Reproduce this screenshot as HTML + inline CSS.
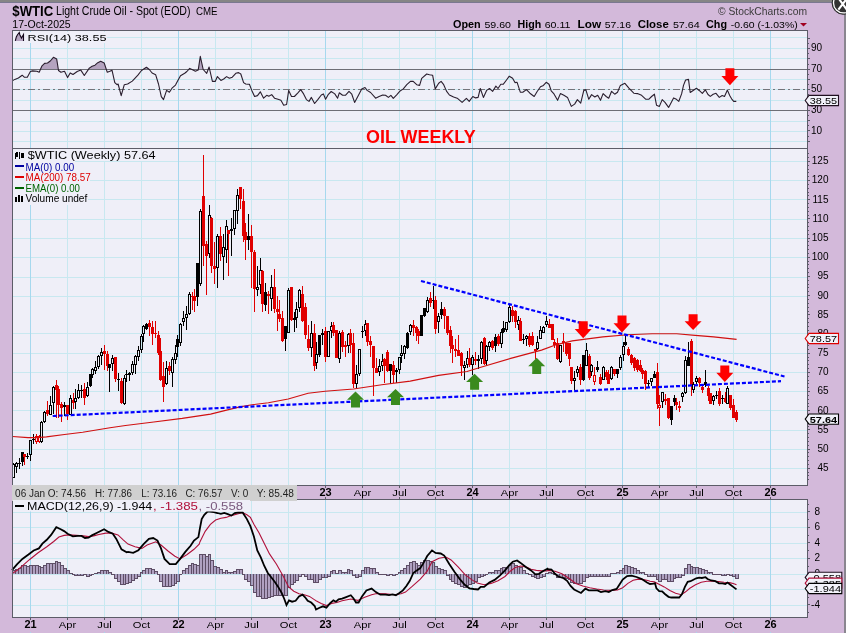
<!DOCTYPE html>
<html><head><meta charset="utf-8"><style>html,body{margin:0;padding:0;background:#d3b9da;overflow:hidden;}svg{display:block;will-change:transform;}</style></head>
<body><svg width="846" height="633" viewBox="0 0 846 633" font-family='"Liberation Sans", sans-serif'>
<rect x="0" y="0" width="846" height="633" fill="#d3b9da"/>
<rect x="12" y="30" width="795" height="118" fill="#efeff8"/>
<rect x="12" y="148" width="795" height="337" fill="#efeff8"/>
<rect x="12" y="499" width="795" height="118" fill="#efeff8"/>
<g shape-rendering="crispEdges">
<rect x="13" y="37" width="794" height="1" fill="#c8e8f0"/>
<rect x="13" y="48" width="794" height="1" fill="#c8e8f0"/>
<rect x="13" y="58" width="794" height="1" fill="#c8e8f0"/>
<rect x="13" y="79" width="794" height="1" fill="#c8e8f0"/>
<rect x="13" y="100" width="794" height="1" fill="#c8e8f0"/>
<rect x="13" y="121" width="794" height="1" fill="#c8e8f0"/>
<rect x="13" y="131" width="794" height="1" fill="#c8e8f0"/>
<rect x="13" y="141" width="794" height="1" fill="#c8e8f0"/>
<rect x="13" y="161" width="794" height="1" fill="#c8e8f0"/>
<rect x="13" y="180" width="794" height="1" fill="#c8e8f0"/>
<rect x="13" y="199" width="794" height="1" fill="#c8e8f0"/>
<rect x="13" y="219" width="794" height="1" fill="#c8e8f0"/>
<rect x="13" y="238" width="794" height="1" fill="#c8e8f0"/>
<rect x="13" y="257" width="794" height="1" fill="#c8e8f0"/>
<rect x="13" y="277" width="794" height="1" fill="#c8e8f0"/>
<rect x="13" y="296" width="794" height="1" fill="#c8e8f0"/>
<rect x="13" y="333" width="794" height="1" fill="#c8e8f0"/>
<rect x="13" y="353" width="794" height="1" fill="#c8e8f0"/>
<rect x="13" y="372" width="794" height="1" fill="#c8e8f0"/>
<rect x="13" y="391" width="794" height="1" fill="#c8e8f0"/>
<rect x="13" y="410" width="794" height="1" fill="#c8e8f0"/>
<rect x="13" y="430" width="794" height="1" fill="#c8e8f0"/>
<rect x="13" y="449" width="794" height="1" fill="#c8e8f0"/>
<rect x="13" y="468" width="794" height="1" fill="#c8e8f0"/>
<rect x="13" y="605" width="794" height="1" fill="#c8e8f0"/>
<rect x="13" y="589" width="794" height="1" fill="#c8e8f0"/>
<rect x="13" y="574" width="794" height="1" fill="#c8e8f0"/>
<rect x="13" y="558" width="794" height="1" fill="#c8e8f0"/>
<rect x="13" y="543" width="794" height="1" fill="#c8e8f0"/>
<rect x="13" y="527" width="794" height="1" fill="#c8e8f0"/>
<rect x="13" y="512" width="794" height="1" fill="#c8e8f0"/>
<rect x="30" y="31" width="1" height="117" fill="#a6d8ee"/>
<rect x="67" y="31" width="1" height="117" fill="#c8e8f0"/>
<rect x="104" y="31" width="1" height="117" fill="#c8e8f0"/>
<rect x="141" y="31" width="1" height="117" fill="#c8e8f0"/>
<rect x="178" y="31" width="1" height="117" fill="#a6d8ee"/>
<rect x="215" y="31" width="1" height="117" fill="#c8e8f0"/>
<rect x="251" y="31" width="1" height="117" fill="#c8e8f0"/>
<rect x="288" y="31" width="1" height="117" fill="#c8e8f0"/>
<rect x="325" y="31" width="1" height="117" fill="#a6d8ee"/>
<rect x="362" y="31" width="1" height="117" fill="#c8e8f0"/>
<rect x="399" y="31" width="1" height="117" fill="#c8e8f0"/>
<rect x="435" y="31" width="1" height="117" fill="#c8e8f0"/>
<rect x="472" y="31" width="1" height="117" fill="#a6d8ee"/>
<rect x="509" y="31" width="1" height="117" fill="#c8e8f0"/>
<rect x="546" y="31" width="1" height="117" fill="#c8e8f0"/>
<rect x="585" y="31" width="1" height="117" fill="#c8e8f0"/>
<rect x="622" y="31" width="1" height="117" fill="#a6d8ee"/>
<rect x="659" y="31" width="1" height="117" fill="#c8e8f0"/>
<rect x="696" y="31" width="1" height="117" fill="#c8e8f0"/>
<rect x="733" y="31" width="1" height="117" fill="#c8e8f0"/>
<rect x="770" y="31" width="1" height="117" fill="#a6d8ee"/>
<rect x="30" y="149" width="1" height="336" fill="#a6d8ee"/>
<rect x="67" y="149" width="1" height="336" fill="#c8e8f0"/>
<rect x="104" y="149" width="1" height="336" fill="#c8e8f0"/>
<rect x="141" y="149" width="1" height="336" fill="#c8e8f0"/>
<rect x="178" y="149" width="1" height="336" fill="#a6d8ee"/>
<rect x="215" y="149" width="1" height="336" fill="#c8e8f0"/>
<rect x="251" y="149" width="1" height="336" fill="#c8e8f0"/>
<rect x="288" y="149" width="1" height="336" fill="#c8e8f0"/>
<rect x="325" y="149" width="1" height="336" fill="#a6d8ee"/>
<rect x="362" y="149" width="1" height="336" fill="#c8e8f0"/>
<rect x="399" y="149" width="1" height="336" fill="#c8e8f0"/>
<rect x="435" y="149" width="1" height="336" fill="#c8e8f0"/>
<rect x="472" y="149" width="1" height="336" fill="#a6d8ee"/>
<rect x="509" y="149" width="1" height="336" fill="#c8e8f0"/>
<rect x="546" y="149" width="1" height="336" fill="#c8e8f0"/>
<rect x="585" y="149" width="1" height="336" fill="#c8e8f0"/>
<rect x="622" y="149" width="1" height="336" fill="#a6d8ee"/>
<rect x="659" y="149" width="1" height="336" fill="#c8e8f0"/>
<rect x="696" y="149" width="1" height="336" fill="#c8e8f0"/>
<rect x="733" y="149" width="1" height="336" fill="#c8e8f0"/>
<rect x="770" y="149" width="1" height="336" fill="#a6d8ee"/>
<rect x="30" y="500" width="1" height="117" fill="#a6d8ee"/>
<rect x="67" y="500" width="1" height="117" fill="#c8e8f0"/>
<rect x="104" y="500" width="1" height="117" fill="#c8e8f0"/>
<rect x="141" y="500" width="1" height="117" fill="#c8e8f0"/>
<rect x="178" y="500" width="1" height="117" fill="#a6d8ee"/>
<rect x="215" y="500" width="1" height="117" fill="#c8e8f0"/>
<rect x="251" y="500" width="1" height="117" fill="#c8e8f0"/>
<rect x="288" y="500" width="1" height="117" fill="#c8e8f0"/>
<rect x="325" y="500" width="1" height="117" fill="#a6d8ee"/>
<rect x="362" y="500" width="1" height="117" fill="#c8e8f0"/>
<rect x="399" y="500" width="1" height="117" fill="#c8e8f0"/>
<rect x="435" y="500" width="1" height="117" fill="#c8e8f0"/>
<rect x="472" y="500" width="1" height="117" fill="#a6d8ee"/>
<rect x="509" y="500" width="1" height="117" fill="#c8e8f0"/>
<rect x="546" y="500" width="1" height="117" fill="#c8e8f0"/>
<rect x="585" y="500" width="1" height="117" fill="#c8e8f0"/>
<rect x="622" y="500" width="1" height="117" fill="#a6d8ee"/>
<rect x="659" y="500" width="1" height="117" fill="#c8e8f0"/>
<rect x="696" y="500" width="1" height="117" fill="#c8e8f0"/>
<rect x="733" y="500" width="1" height="117" fill="#c8e8f0"/>
<rect x="770" y="500" width="1" height="117" fill="#a6d8ee"/>
<rect x="13" y="69" width="794" height="1" fill="#6e6e76"/>
<rect x="13" y="110" width="794" height="1" fill="#6e6e76"/>
</g>
<rect x="13" y="89" width="794" height="1" fill="#c8e8f0"/>
<line x1="13" y1="89.5" x2="807" y2="89.5" stroke="#74747a" stroke-width="1" stroke-dasharray="7,3,2,3" shape-rendering="crispEdges"/>
<clipPath id="c70"><rect x="12" y="30" width="795" height="39"/></clipPath>
<path d="M12.5,80.6 L13.1,80.4 L14.8,79.4 L18.4,78.0 L22.2,75.2 L24.5,77.3 L27.3,77.2 L30.4,71.5 L32.6,70.9 L36.8,71.2 L39.2,72.3 L41.8,66.2 L44.6,63.4 L47.5,63.0 L50.3,61.0 L53.4,57.3 L56.7,59.1 L58.5,70.5 L60.9,72.3 L64.5,71.2 L67.6,77.6 L70.2,72.9 L73.0,74.5 L77.2,71.5 L80.8,70.1 L84.3,75.5 L89.3,68.1 L92.1,66.2 L95.0,65.2 L97.8,62.7 L100.7,61.3 L104.2,63.0 L107.3,72.3 L109.9,71.2 L112.0,70.2 L114.8,82.6 L117.0,84.7 L118.1,84.0 L121.2,95.6 L124.3,84.7 L127.6,84.0 L132.3,81.1 L137.9,75.2 L141.5,70.5 L146.4,67.2 L149.3,69.5 L152.1,73.0 L155.7,74.8 L158.5,84.0 L161.3,96.7 L163.5,99.6 L166.6,90.4 L169.4,92.2 L172.0,88.2 L175.5,85.1 L177.6,81.1 L180.5,75.7 L184.7,73.3 L186.9,71.5 L189.7,68.4 L192.5,69.8 L195.4,71.2 L198.2,70.1 L200.3,56.3 L203.2,69.5 L206.7,73.3 L209.1,67.0 L212.4,81.4 L215.2,81.4 L217.4,76.6 L220.9,80.4 L223.7,79.0 L226.6,76.6 L229.4,78.3 L232.3,77.2 L235.8,73.3 L238.6,72.6 L240.8,74.0 L243.6,82.6 L245.7,84.0 L248.0,84.3 L249.4,84.3 L251.8,90.4 L254.6,96.5 L257.5,95.6 L260.3,91.8 L263.6,98.2 L266.7,95.3 L268.8,96.3 L271.7,94.6 L274.5,98.2 L278.0,99.3 L280.9,100.3 L283.7,105.2 L286.6,104.5 L288.7,90.4 L291.5,96.5 L294.4,96.5 L297.9,92.8 L300.7,89.6 L303.6,93.9 L306.4,99.6 L309.0,101.4 L311.4,97.4 L314.6,103.5 L317.8,99.6 L321.3,95.0 L323.4,93.9 L325.6,99.3 L328.4,94.3 L331.2,91.5 L334.8,93.9 L337.6,98.2 L339.3,92.8 L342.6,95.3 L345.4,95.3 L349.0,91.3 L351.8,94.2 L354.6,102.4 L358.2,95.7 L361.7,88.9 L365.0,87.5 L367.1,90.4 L370.6,92.5 L375.6,98.2 L379.1,96.5 L382.7,95.0 L385.5,95.3 L388.4,97.4 L390.9,95.3 L393.3,98.4 L396.9,94.6 L399.7,91.3 L403.3,88.9 L406.8,84.7 L410.4,81.4 L413.2,81.4 L416.7,84.7 L419.6,85.4 L421.7,78.3 L426.7,74.0 L429.5,74.8 L432.6,75.2 L435.2,88.9 L438.7,83.3 L441.1,81.4 L443.7,84.7 L446.5,91.1 L449.4,95.0 L453.6,97.0 L457.2,98.2 L462.1,102.4 L466.4,98.4 L469.2,101.3 L472.8,96.5 L475.6,97.9 L478.1,97.4 L480.3,88.5 L483.4,97.4 L486.6,90.4 L489.5,88.5 L492.7,91.3 L495.9,86.1 L498.0,88.5 L500.8,84.3 L503.2,84.3 L506.5,80.0 L509.3,76.2 L512.6,78.3 L515.0,82.6 L517.1,82.3 L520.3,92.2 L522.8,92.2 L526.4,89.6 L529.9,93.2 L534.2,96.5 L537.0,91.8 L540.5,86.8 L543.4,85.4 L546.2,82.3 L549.0,84.3 L551.2,90.8 L554.0,93.9 L557.6,100.3 L560.4,93.6 L563.9,95.3 L567.5,97.4 L571.3,106.4 L574.6,104.1 L577.4,99.6 L580.7,103.1 L583.8,90.4 L585.9,89.9 L588.8,99.3 L591.6,94.6 L594.8,97.0 L597.7,95.3 L600.5,100.3 L603.1,93.6 L606.2,96.5 L608.7,98.2 L611.6,91.3 L614.7,94.2 L617.5,92.2 L620.4,85.4 L624.9,83.3 L628.9,88.2 L633.8,93.2 L637.4,93.6 L641.6,95.3 L645.9,99.3 L648.7,99.3 L651.6,96.5 L654.4,94.2 L656.5,105.2 L659.4,106.4 L662.2,99.6 L665.0,102.4 L668.6,107.4 L673.6,97.9 L676.4,99.3 L678.8,101.3 L681.6,93.9 L683.5,85.4 L685.6,80.0 L688.5,79.4 L690.2,92.5 L692.8,90.7 L696.4,88.2 L699.5,90.7 L702.3,93.3 L705.3,89.8 L708.0,94.5 L710.3,96.4 L713.2,94.2 L716.0,93.3 L719.3,97.4 L722.2,95.5 L724.5,96.4 L727.4,90.1 L729.7,95.5 L731.6,98.8 L733.7,101.4 L736.3,101.4 L736.3,69.2 L12.5,69.2 Z" fill="#b4a3bf" clip-path="url(#c70)"/>
<rect x="13" y="69" width="794" height="1" fill="#6e6e76"/>
<path d="M12.5,80.6 L13.1,80.4 L14.8,79.4 L18.4,78.0 L22.2,75.2 L24.5,77.3 L27.3,77.2 L30.4,71.5 L32.6,70.9 L36.8,71.2 L39.2,72.3 L41.8,66.2 L44.6,63.4 L47.5,63.0 L50.3,61.0 L53.4,57.3 L56.7,59.1 L58.5,70.5 L60.9,72.3 L64.5,71.2 L67.6,77.6 L70.2,72.9 L73.0,74.5 L77.2,71.5 L80.8,70.1 L84.3,75.5 L89.3,68.1 L92.1,66.2 L95.0,65.2 L97.8,62.7 L100.7,61.3 L104.2,63.0 L107.3,72.3 L109.9,71.2 L112.0,70.2 L114.8,82.6 L117.0,84.7 L118.1,84.0 L121.2,95.6 L124.3,84.7 L127.6,84.0 L132.3,81.1 L137.9,75.2 L141.5,70.5 L146.4,67.2 L149.3,69.5 L152.1,73.0 L155.7,74.8 L158.5,84.0 L161.3,96.7 L163.5,99.6 L166.6,90.4 L169.4,92.2 L172.0,88.2 L175.5,85.1 L177.6,81.1 L180.5,75.7 L184.7,73.3 L186.9,71.5 L189.7,68.4 L192.5,69.8 L195.4,71.2 L198.2,70.1 L200.3,56.3 L203.2,69.5 L206.7,73.3 L209.1,67.0 L212.4,81.4 L215.2,81.4 L217.4,76.6 L220.9,80.4 L223.7,79.0 L226.6,76.6 L229.4,78.3 L232.3,77.2 L235.8,73.3 L238.6,72.6 L240.8,74.0 L243.6,82.6 L245.7,84.0 L248.0,84.3 L249.4,84.3 L251.8,90.4 L254.6,96.5 L257.5,95.6 L260.3,91.8 L263.6,98.2 L266.7,95.3 L268.8,96.3 L271.7,94.6 L274.5,98.2 L278.0,99.3 L280.9,100.3 L283.7,105.2 L286.6,104.5 L288.7,90.4 L291.5,96.5 L294.4,96.5 L297.9,92.8 L300.7,89.6 L303.6,93.9 L306.4,99.6 L309.0,101.4 L311.4,97.4 L314.6,103.5 L317.8,99.6 L321.3,95.0 L323.4,93.9 L325.6,99.3 L328.4,94.3 L331.2,91.5 L334.8,93.9 L337.6,98.2 L339.3,92.8 L342.6,95.3 L345.4,95.3 L349.0,91.3 L351.8,94.2 L354.6,102.4 L358.2,95.7 L361.7,88.9 L365.0,87.5 L367.1,90.4 L370.6,92.5 L375.6,98.2 L379.1,96.5 L382.7,95.0 L385.5,95.3 L388.4,97.4 L390.9,95.3 L393.3,98.4 L396.9,94.6 L399.7,91.3 L403.3,88.9 L406.8,84.7 L410.4,81.4 L413.2,81.4 L416.7,84.7 L419.6,85.4 L421.7,78.3 L426.7,74.0 L429.5,74.8 L432.6,75.2 L435.2,88.9 L438.7,83.3 L441.1,81.4 L443.7,84.7 L446.5,91.1 L449.4,95.0 L453.6,97.0 L457.2,98.2 L462.1,102.4 L466.4,98.4 L469.2,101.3 L472.8,96.5 L475.6,97.9 L478.1,97.4 L480.3,88.5 L483.4,97.4 L486.6,90.4 L489.5,88.5 L492.7,91.3 L495.9,86.1 L498.0,88.5 L500.8,84.3 L503.2,84.3 L506.5,80.0 L509.3,76.2 L512.6,78.3 L515.0,82.6 L517.1,82.3 L520.3,92.2 L522.8,92.2 L526.4,89.6 L529.9,93.2 L534.2,96.5 L537.0,91.8 L540.5,86.8 L543.4,85.4 L546.2,82.3 L549.0,84.3 L551.2,90.8 L554.0,93.9 L557.6,100.3 L560.4,93.6 L563.9,95.3 L567.5,97.4 L571.3,106.4 L574.6,104.1 L577.4,99.6 L580.7,103.1 L583.8,90.4 L585.9,89.9 L588.8,99.3 L591.6,94.6 L594.8,97.0 L597.7,95.3 L600.5,100.3 L603.1,93.6 L606.2,96.5 L608.7,98.2 L611.6,91.3 L614.7,94.2 L617.5,92.2 L620.4,85.4 L624.9,83.3 L628.9,88.2 L633.8,93.2 L637.4,93.6 L641.6,95.3 L645.9,99.3 L648.7,99.3 L651.6,96.5 L654.4,94.2 L656.5,105.2 L659.4,106.4 L662.2,99.6 L665.0,102.4 L668.6,107.4 L673.6,97.9 L676.4,99.3 L678.8,101.3 L681.6,93.9 L683.5,85.4 L685.6,80.0 L688.5,79.4 L690.2,92.5 L692.8,90.7 L696.4,88.2 L699.5,90.7 L702.3,93.3 L705.3,89.8 L708.0,94.5 L710.3,96.4 L713.2,94.2 L716.0,93.3 L719.3,97.4 L722.2,95.5 L724.5,96.4 L727.4,90.1 L729.7,95.5 L731.6,98.8 L733.7,101.4 L736.3,101.4" fill="none" stroke="#2a1e2e" stroke-width="1.1" stroke-linejoin="round"/>
<g shape-rendering="crispEdges">
<rect x="13" y="463" width="1" height="1" fill="#000000"/>
<path d="M12,464h3v14h-3z M13,465v12h1v-12z" fill="#000000" fill-rule="evenodd"/>
<rect x="16" y="462" width="1" height="1" fill="#000000"/>
<rect x="16" y="467" width="1" height="6" fill="#000000"/>
<path d="M15,463h3v4h-3z M16,464v2h1v-2z" fill="#000000" fill-rule="evenodd"/>
<rect x="19" y="458" width="1" height="11" fill="#000000"/>
<rect x="18" y="463" width="3" height="1" fill="#000000"/>
<rect x="22" y="452" width="1" height="14" fill="#000000"/>
<rect x="21" y="452" width="3" height="10" fill="#000000"/>
<rect x="24" y="454" width="1" height="11" fill="#e00000"/>
<rect x="23" y="454" width="3" height="3" fill="#e00000"/>
<rect x="27" y="453" width="1" height="6" fill="#000000"/>
<rect x="26" y="456" width="3" height="1" fill="#000000"/>
<rect x="30" y="455" width="1" height="6" fill="#000000"/>
<path d="M29,440h3v15h-3z M30,441v13h1v-13z" fill="#000000" fill-rule="evenodd"/>
<rect x="33" y="434" width="1" height="10" fill="#000000"/>
<rect x="32" y="439" width="3" height="1" fill="#000000"/>
<rect x="36" y="434" width="1" height="2" fill="#e00000"/>
<rect x="36" y="442" width="1" height="2" fill="#e00000"/>
<path d="M35,436h3v6h-3z M36,437v4h1v-4z" fill="#e00000" fill-rule="evenodd"/>
<rect x="39" y="435" width="1" height="1" fill="#e00000"/>
<rect x="39" y="442" width="1" height="1" fill="#e00000"/>
<path d="M38,436h3v6h-3z M39,437v4h1v-4z" fill="#e00000" fill-rule="evenodd"/>
<rect x="41" y="421" width="1" height="1" fill="#000000"/>
<rect x="41" y="442" width="1" height="1" fill="#000000"/>
<path d="M40,422h3v20h-3z M41,423v18h1v-18z" fill="#000000" fill-rule="evenodd"/>
<rect x="44" y="411" width="1" height="1" fill="#000000"/>
<rect x="44" y="422" width="1" height="1" fill="#000000"/>
<path d="M43,412h3v10h-3z M44,413v8h1v-8z" fill="#000000" fill-rule="evenodd"/>
<rect x="47" y="401" width="1" height="15" fill="#e00000"/>
<rect x="46" y="410" width="3" height="4" fill="#e00000"/>
<rect x="50" y="396" width="1" height="9" fill="#000000"/>
<path d="M49,405h3v10h-3z M50,406v8h1v-8z" fill="#000000" fill-rule="evenodd"/>
<rect x="53" y="386" width="1" height="1" fill="#000000"/>
<rect x="53" y="403" width="1" height="11" fill="#000000"/>
<path d="M52,387h3v16h-3z M53,388v14h1v-14z" fill="#000000" fill-rule="evenodd"/>
<rect x="56" y="380" width="1" height="38" fill="#e00000"/>
<rect x="55" y="385" width="3" height="5" fill="#e00000"/>
<rect x="58" y="386" width="1" height="32" fill="#e00000"/>
<rect x="57" y="389" width="3" height="16" fill="#e00000"/>
<rect x="61" y="402" width="1" height="20" fill="#e00000"/>
<rect x="60" y="404" width="3" height="4" fill="#e00000"/>
<rect x="64" y="402" width="1" height="14" fill="#000000"/>
<rect x="63" y="405" width="3" height="2" fill="#000000"/>
<rect x="67" y="405" width="1" height="15" fill="#e00000"/>
<rect x="66" y="405" width="3" height="9" fill="#e00000"/>
<rect x="70" y="395" width="1" height="3" fill="#000000"/>
<path d="M69,398h3v17h-3z M70,399v15h1v-15z" fill="#000000" fill-rule="evenodd"/>
<rect x="73" y="393" width="1" height="16" fill="#e00000"/>
<rect x="72" y="400" width="3" height="3" fill="#e00000"/>
<rect x="75" y="389" width="1" height="9" fill="#000000"/>
<rect x="75" y="402" width="1" height="7" fill="#000000"/>
<path d="M74,398h3v4h-3z M75,399v2h1v-2z" fill="#000000" fill-rule="evenodd"/>
<rect x="78" y="384" width="1" height="6" fill="#000000"/>
<rect x="78" y="398" width="1" height="1" fill="#000000"/>
<path d="M77,390h3v8h-3z M78,391v6h1v-6z" fill="#000000" fill-rule="evenodd"/>
<rect x="81" y="385" width="1" height="13" fill="#000000"/>
<rect x="80" y="390" width="3" height="1" fill="#000000"/>
<rect x="84" y="383" width="1" height="22" fill="#e00000"/>
<rect x="83" y="389" width="3" height="9" fill="#e00000"/>
<rect x="87" y="382" width="1" height="5" fill="#000000"/>
<rect x="87" y="396" width="1" height="1" fill="#000000"/>
<path d="M86,387h3v9h-3z M87,388v7h1v-7z" fill="#000000" fill-rule="evenodd"/>
<rect x="90" y="374" width="1" height="13" fill="#000000"/>
<rect x="89" y="374" width="3" height="12" fill="#000000"/>
<rect x="92" y="368" width="1" height="1" fill="#000000"/>
<rect x="92" y="375" width="1" height="3" fill="#000000"/>
<path d="M91,369h3v6h-3z M92,370v4h1v-4z" fill="#000000" fill-rule="evenodd"/>
<rect x="95" y="361" width="1" height="6" fill="#000000"/>
<rect x="95" y="371" width="1" height="3" fill="#000000"/>
<path d="M94,367h3v4h-3z M95,368v2h1v-2z" fill="#000000" fill-rule="evenodd"/>
<rect x="98" y="355" width="1" height="1" fill="#000000"/>
<rect x="98" y="367" width="1" height="2" fill="#000000"/>
<path d="M97,356h3v11h-3z M98,357v9h1v-9z" fill="#000000" fill-rule="evenodd"/>
<rect x="101" y="348" width="1" height="4" fill="#000000"/>
<rect x="101" y="356" width="1" height="9" fill="#000000"/>
<path d="M100,352h3v4h-3z M101,353v2h1v-2z" fill="#000000" fill-rule="evenodd"/>
<rect x="104" y="345" width="1" height="25" fill="#e00000"/>
<rect x="103" y="351" width="3" height="3" fill="#e00000"/>
<rect x="107" y="351" width="1" height="20" fill="#e00000"/>
<rect x="106" y="354" width="3" height="12" fill="#e00000"/>
<rect x="109" y="364" width="1" height="28" fill="#000000"/>
<rect x="108" y="364" width="3" height="4" fill="#000000"/>
<rect x="112" y="355" width="1" height="3" fill="#000000"/>
<rect x="112" y="364" width="1" height="7" fill="#000000"/>
<path d="M111,358h3v6h-3z M112,359v4h1v-4z" fill="#000000" fill-rule="evenodd"/>
<rect x="115" y="357" width="1" height="25" fill="#e00000"/>
<rect x="114" y="357" width="3" height="22" fill="#e00000"/>
<rect x="118" y="373" width="1" height="18" fill="#000000"/>
<rect x="117" y="379" width="3" height="1" fill="#000000"/>
<rect x="121" y="378" width="1" height="26" fill="#e00000"/>
<rect x="120" y="381" width="3" height="22" fill="#e00000"/>
<rect x="124" y="375" width="1" height="3" fill="#000000"/>
<rect x="124" y="404" width="1" height="1" fill="#000000"/>
<path d="M123,378h3v26h-3z M124,379v24h1v-24z" fill="#000000" fill-rule="evenodd"/>
<rect x="126" y="370" width="1" height="12" fill="#000000"/>
<rect x="125" y="374" width="3" height="1" fill="#000000"/>
<rect x="129" y="372" width="1" height="9" fill="#000000"/>
<rect x="128" y="373" width="3" height="2" fill="#000000"/>
<rect x="132" y="361" width="1" height="3" fill="#000000"/>
<rect x="132" y="373" width="1" height="2" fill="#000000"/>
<path d="M131,364h3v9h-3z M132,365v7h1v-7z" fill="#000000" fill-rule="evenodd"/>
<rect x="135" y="355" width="1" height="1" fill="#000000"/>
<rect x="135" y="365" width="1" height="9" fill="#000000"/>
<path d="M134,356h3v9h-3z M135,357v7h1v-7z" fill="#000000" fill-rule="evenodd"/>
<rect x="138" y="346" width="1" height="4" fill="#000000"/>
<rect x="138" y="357" width="1" height="4" fill="#000000"/>
<path d="M137,350h3v7h-3z M138,351v5h1v-5z" fill="#000000" fill-rule="evenodd"/>
<rect x="141" y="334" width="1" height="2" fill="#000000"/>
<rect x="141" y="350" width="1" height="3" fill="#000000"/>
<path d="M140,336h3v14h-3z M141,337v12h1v-12z" fill="#000000" fill-rule="evenodd"/>
<rect x="143" y="325" width="1" height="1" fill="#000000"/>
<rect x="143" y="334" width="1" height="8" fill="#000000"/>
<path d="M142,326h3v8h-3z M143,327v6h1v-6z" fill="#000000" fill-rule="evenodd"/>
<rect x="146" y="323" width="1" height="7" fill="#000000"/>
<rect x="145" y="324" width="3" height="5" fill="#000000"/>
<rect x="149" y="320" width="1" height="16" fill="#e00000"/>
<rect x="148" y="323" width="3" height="4" fill="#e00000"/>
<rect x="152" y="321" width="1" height="24" fill="#e00000"/>
<rect x="151" y="327" width="3" height="7" fill="#e00000"/>
<rect x="155" y="321" width="1" height="17" fill="#e00000"/>
<rect x="154" y="333" width="3" height="1" fill="#e00000"/>
<rect x="158" y="331" width="1" height="24" fill="#e00000"/>
<rect x="157" y="335" width="3" height="18" fill="#e00000"/>
<rect x="160" y="338" width="1" height="43" fill="#e00000"/>
<rect x="159" y="351" width="3" height="29" fill="#e00000"/>
<rect x="163" y="362" width="1" height="40" fill="#e00000"/>
<rect x="162" y="376" width="3" height="11" fill="#e00000"/>
<rect x="166" y="361" width="1" height="7" fill="#000000"/>
<rect x="166" y="384" width="1" height="1" fill="#000000"/>
<path d="M165,368h3v16h-3z M166,369v14h1v-14z" fill="#000000" fill-rule="evenodd"/>
<rect x="169" y="362" width="1" height="13" fill="#e00000"/>
<rect x="168" y="366" width="3" height="5" fill="#e00000"/>
<rect x="172" y="357" width="1" height="2" fill="#000000"/>
<rect x="172" y="373" width="1" height="14" fill="#000000"/>
<path d="M171,359h3v14h-3z M172,360v12h1v-12z" fill="#000000" fill-rule="evenodd"/>
<rect x="175" y="345" width="1" height="8" fill="#000000"/>
<rect x="175" y="360" width="1" height="4" fill="#000000"/>
<path d="M174,353h3v7h-3z M175,354v5h1v-5z" fill="#000000" fill-rule="evenodd"/>
<rect x="177" y="335" width="1" height="22" fill="#000000"/>
<rect x="176" y="339" width="3" height="8" fill="#000000"/>
<rect x="180" y="323" width="1" height="1" fill="#000000"/>
<rect x="180" y="343" width="1" height="3" fill="#000000"/>
<path d="M179,324h3v19h-3z M180,325v17h1v-17z" fill="#000000" fill-rule="evenodd"/>
<rect x="183" y="311" width="1" height="7" fill="#000000"/>
<rect x="183" y="322" width="1" height="4" fill="#000000"/>
<path d="M182,318h3v4h-3z M183,319v2h1v-2z" fill="#000000" fill-rule="evenodd"/>
<rect x="186" y="306" width="1" height="8" fill="#000000"/>
<rect x="186" y="318" width="1" height="12" fill="#000000"/>
<path d="M185,314h3v4h-3z M186,315v2h1v-2z" fill="#000000" fill-rule="evenodd"/>
<rect x="189" y="292" width="1" height="2" fill="#000000"/>
<rect x="189" y="314" width="1" height="1" fill="#000000"/>
<path d="M188,294h3v20h-3z M189,295v18h1v-18z" fill="#000000" fill-rule="evenodd"/>
<rect x="192" y="292" width="1" height="18" fill="#e00000"/>
<rect x="191" y="296" width="3" height="1" fill="#e00000"/>
<rect x="194" y="289" width="1" height="23" fill="#e00000"/>
<rect x="193" y="296" width="3" height="5" fill="#e00000"/>
<rect x="197" y="263" width="1" height="43" fill="#000000"/>
<rect x="196" y="263" width="3" height="34" fill="#000000"/>
<rect x="200" y="209" width="1" height="2" fill="#000000"/>
<rect x="200" y="284" width="1" height="2" fill="#000000"/>
<path d="M199,211h3v73h-3z M200,212v71h1v-71z" fill="#000000" fill-rule="evenodd"/>
<rect x="203" y="155" width="1" height="111" fill="#e00000"/>
<rect x="202" y="196" width="3" height="50" fill="#e00000"/>
<rect x="206" y="241" width="1" height="54" fill="#e00000"/>
<rect x="205" y="244" width="3" height="12" fill="#e00000"/>
<rect x="209" y="205" width="1" height="10" fill="#000000"/>
<rect x="209" y="254" width="1" height="4" fill="#000000"/>
<path d="M208,215h3v39h-3z M209,216v37h1v-37z" fill="#000000" fill-rule="evenodd"/>
<rect x="211" y="217" width="1" height="56" fill="#e00000"/>
<rect x="210" y="218" width="3" height="48" fill="#e00000"/>
<rect x="214" y="242" width="1" height="42" fill="#e00000"/>
<rect x="213" y="266" width="3" height="3" fill="#e00000"/>
<rect x="217" y="234" width="1" height="2" fill="#000000"/>
<rect x="217" y="268" width="1" height="20" fill="#000000"/>
<path d="M216,236h3v32h-3z M217,237v30h1v-30z" fill="#000000" fill-rule="evenodd"/>
<rect x="220" y="227" width="1" height="34" fill="#e00000"/>
<rect x="219" y="236" width="3" height="18" fill="#e00000"/>
<rect x="223" y="234" width="1" height="13" fill="#000000"/>
<rect x="223" y="257" width="1" height="23" fill="#000000"/>
<path d="M222,247h3v10h-3z M223,248v8h1v-8z" fill="#000000" fill-rule="evenodd"/>
<rect x="226" y="220" width="1" height="6" fill="#000000"/>
<rect x="226" y="250" width="1" height="13" fill="#000000"/>
<path d="M225,226h3v24h-3z M226,227v22h1v-22z" fill="#000000" fill-rule="evenodd"/>
<rect x="228" y="230" width="1" height="46" fill="#e00000"/>
<rect x="227" y="230" width="3" height="4" fill="#e00000"/>
<rect x="231" y="218" width="1" height="38" fill="#000000"/>
<rect x="230" y="229" width="3" height="2" fill="#000000"/>
<rect x="234" y="229" width="1" height="6" fill="#000000"/>
<path d="M233,210h3v19h-3z M234,211v17h1v-17z" fill="#000000" fill-rule="evenodd"/>
<rect x="237" y="189" width="1" height="6" fill="#000000"/>
<rect x="237" y="211" width="1" height="13" fill="#000000"/>
<path d="M236,195h3v16h-3z M237,196v14h1v-14z" fill="#000000" fill-rule="evenodd"/>
<rect x="240" y="187" width="1" height="22" fill="#e00000"/>
<rect x="239" y="187" width="3" height="12" fill="#e00000"/>
<rect x="243" y="189" width="1" height="53" fill="#e00000"/>
<rect x="242" y="201" width="3" height="35" fill="#e00000"/>
<rect x="245" y="223" width="1" height="37" fill="#e00000"/>
<rect x="244" y="232" width="3" height="8" fill="#e00000"/>
<rect x="248" y="214" width="1" height="36" fill="#000000"/>
<rect x="247" y="236" width="3" height="4" fill="#000000"/>
<rect x="251" y="225" width="1" height="63" fill="#e00000"/>
<rect x="250" y="236" width="3" height="16" fill="#e00000"/>
<rect x="254" y="250" width="1" height="62" fill="#e00000"/>
<rect x="253" y="252" width="3" height="37" fill="#e00000"/>
<rect x="257" y="266" width="1" height="21" fill="#000000"/>
<rect x="257" y="290" width="1" height="6" fill="#000000"/>
<path d="M256,287h3v3h-3z M257,288v1h1v-1z" fill="#000000" fill-rule="evenodd"/>
<rect x="260" y="258" width="1" height="12" fill="#000000"/>
<rect x="260" y="285" width="1" height="9" fill="#000000"/>
<path d="M259,270h3v15h-3z M260,271v13h1v-13z" fill="#000000" fill-rule="evenodd"/>
<rect x="262" y="270" width="1" height="42" fill="#e00000"/>
<rect x="261" y="271" width="3" height="33" fill="#e00000"/>
<rect x="265" y="283" width="1" height="28" fill="#000000"/>
<rect x="264" y="292" width="3" height="13" fill="#000000"/>
<rect x="268" y="291" width="1" height="23" fill="#e00000"/>
<rect x="267" y="294" width="3" height="2" fill="#e00000"/>
<rect x="271" y="275" width="1" height="12" fill="#000000"/>
<rect x="271" y="299" width="1" height="12" fill="#000000"/>
<path d="M270,287h3v12h-3z M271,288v10h1v-10z" fill="#000000" fill-rule="evenodd"/>
<rect x="274" y="269" width="1" height="44" fill="#e00000"/>
<rect x="273" y="287" width="3" height="22" fill="#e00000"/>
<rect x="277" y="296" width="1" height="35" fill="#e00000"/>
<rect x="276" y="309" width="3" height="3" fill="#e00000"/>
<rect x="279" y="300" width="1" height="22" fill="#e00000"/>
<rect x="278" y="314" width="3" height="5" fill="#e00000"/>
<rect x="282" y="311" width="1" height="31" fill="#e00000"/>
<rect x="281" y="318" width="3" height="23" fill="#e00000"/>
<rect x="285" y="326" width="1" height="25" fill="#000000"/>
<rect x="284" y="326" width="3" height="13" fill="#000000"/>
<rect x="288" y="288" width="1" height="2" fill="#000000"/>
<path d="M287,290h3v43h-3z M288,291v41h1v-41z" fill="#000000" fill-rule="evenodd"/>
<rect x="291" y="287" width="1" height="34" fill="#e00000"/>
<rect x="290" y="287" width="3" height="33" fill="#e00000"/>
<rect x="294" y="312" width="1" height="20" fill="#000000"/>
<rect x="293" y="318" width="3" height="2" fill="#000000"/>
<rect x="296" y="302" width="1" height="7" fill="#000000"/>
<rect x="296" y="318" width="1" height="10" fill="#000000"/>
<path d="M295,309h3v9h-3z M296,310v7h1v-7z" fill="#000000" fill-rule="evenodd"/>
<rect x="299" y="289" width="1" height="1" fill="#000000"/>
<rect x="299" y="308" width="1" height="4" fill="#000000"/>
<path d="M298,290h3v18h-3z M299,291v16h1v-16z" fill="#000000" fill-rule="evenodd"/>
<rect x="302" y="286" width="1" height="36" fill="#e00000"/>
<rect x="301" y="294" width="3" height="27" fill="#e00000"/>
<rect x="305" y="303" width="1" height="36" fill="#e00000"/>
<rect x="304" y="307" width="3" height="28" fill="#e00000"/>
<rect x="308" y="325" width="1" height="26" fill="#e00000"/>
<rect x="307" y="339" width="3" height="9" fill="#e00000"/>
<rect x="311" y="321" width="1" height="12" fill="#000000"/>
<rect x="311" y="348" width="1" height="9" fill="#000000"/>
<path d="M310,333h3v15h-3z M311,334v13h1v-13z" fill="#000000" fill-rule="evenodd"/>
<rect x="314" y="324" width="1" height="47" fill="#e00000"/>
<rect x="313" y="333" width="3" height="33" fill="#e00000"/>
<rect x="316" y="342" width="1" height="12" fill="#000000"/>
<rect x="316" y="363" width="1" height="6" fill="#000000"/>
<path d="M315,354h3v9h-3z M316,355v7h1v-7z" fill="#000000" fill-rule="evenodd"/>
<rect x="319" y="335" width="1" height="22" fill="#000000"/>
<rect x="318" y="335" width="3" height="20" fill="#000000"/>
<rect x="322" y="329" width="1" height="16" fill="#000000"/>
<rect x="321" y="333" width="3" height="2" fill="#000000"/>
<rect x="325" y="327" width="1" height="35" fill="#e00000"/>
<rect x="324" y="331" width="3" height="26" fill="#e00000"/>
<path d="M327,331h3v26h-3z M328,332v24h1v-24z" fill="#000000" fill-rule="evenodd"/>
<rect x="331" y="322" width="1" height="4" fill="#000000"/>
<rect x="331" y="331" width="1" height="7" fill="#000000"/>
<path d="M330,326h3v5h-3z M331,327v3h1v-3z" fill="#000000" fill-rule="evenodd"/>
<rect x="333" y="322" width="1" height="14" fill="#e00000"/>
<rect x="332" y="325" width="3" height="8" fill="#e00000"/>
<rect x="336" y="330" width="1" height="28" fill="#e00000"/>
<rect x="335" y="330" width="3" height="28" fill="#e00000"/>
<rect x="339" y="331" width="1" height="2" fill="#000000"/>
<rect x="339" y="359" width="1" height="4" fill="#000000"/>
<path d="M338,333h3v26h-3z M339,334v24h1v-24z" fill="#000000" fill-rule="evenodd"/>
<rect x="342" y="330" width="1" height="22" fill="#e00000"/>
<rect x="341" y="332" width="3" height="15" fill="#e00000"/>
<rect x="345" y="341" width="1" height="16" fill="#e00000"/>
<rect x="344" y="345" width="3" height="2" fill="#e00000"/>
<rect x="348" y="333" width="1" height="1" fill="#000000"/>
<rect x="348" y="346" width="1" height="7" fill="#000000"/>
<path d="M347,334h3v12h-3z M348,335v10h1v-10z" fill="#000000" fill-rule="evenodd"/>
<rect x="350" y="329" width="1" height="24" fill="#e00000"/>
<rect x="349" y="333" width="3" height="12" fill="#e00000"/>
<rect x="353" y="333" width="1" height="55" fill="#e00000"/>
<rect x="352" y="343" width="3" height="41" fill="#e00000"/>
<rect x="356" y="365" width="1" height="9" fill="#000000"/>
<rect x="356" y="384" width="1" height="4" fill="#000000"/>
<path d="M355,374h3v10h-3z M356,375v8h1v-8z" fill="#000000" fill-rule="evenodd"/>
<rect x="359" y="374" width="1" height="2" fill="#000000"/>
<path d="M358,349h3v25h-3z M359,350v23h1v-23z" fill="#000000" fill-rule="evenodd"/>
<rect x="362" y="326" width="1" height="12" fill="#000000"/>
<rect x="361" y="331" width="3" height="1" fill="#000000"/>
<rect x="365" y="320" width="1" height="4" fill="#000000"/>
<rect x="365" y="331" width="1" height="5" fill="#000000"/>
<path d="M364,324h3v7h-3z M365,325v5h1v-5z" fill="#000000" fill-rule="evenodd"/>
<rect x="367" y="323" width="1" height="23" fill="#e00000"/>
<rect x="366" y="323" width="3" height="19" fill="#e00000"/>
<rect x="370" y="336" width="1" height="21" fill="#e00000"/>
<rect x="369" y="341" width="3" height="4" fill="#e00000"/>
<rect x="373" y="346" width="1" height="50" fill="#e00000"/>
<rect x="372" y="346" width="3" height="22" fill="#e00000"/>
<rect x="376" y="358" width="1" height="15" fill="#e00000"/>
<rect x="375" y="368" width="3" height="5" fill="#e00000"/>
<rect x="379" y="359" width="1" height="7" fill="#000000"/>
<rect x="379" y="372" width="1" height="4" fill="#000000"/>
<path d="M378,366h3v6h-3z M379,367v4h1v-4z" fill="#000000" fill-rule="evenodd"/>
<rect x="382" y="354" width="1" height="7" fill="#000000"/>
<rect x="382" y="366" width="1" height="5" fill="#000000"/>
<path d="M381,361h3v5h-3z M382,362v3h1v-3z" fill="#000000" fill-rule="evenodd"/>
<rect x="384" y="358" width="1" height="25" fill="#e00000"/>
<rect x="383" y="359" width="3" height="7" fill="#e00000"/>
<rect x="387" y="350" width="1" height="22" fill="#e00000"/>
<rect x="386" y="352" width="3" height="19" fill="#e00000"/>
<rect x="390" y="364" width="1" height="20" fill="#000000"/>
<rect x="389" y="364" width="3" height="7" fill="#000000"/>
<rect x="393" y="361" width="1" height="22" fill="#e00000"/>
<rect x="392" y="365" width="3" height="10" fill="#e00000"/>
<rect x="396" y="368" width="1" height="15" fill="#000000"/>
<rect x="395" y="370" width="3" height="2" fill="#000000"/>
<rect x="399" y="370" width="1" height="4" fill="#000000"/>
<path d="M398,357h3v13h-3z M399,358v11h1v-11z" fill="#000000" fill-rule="evenodd"/>
<rect x="401" y="345" width="1" height="8" fill="#000000"/>
<rect x="401" y="356" width="1" height="7" fill="#000000"/>
<path d="M400,353h3v3h-3z M401,354v1h1v-1z" fill="#000000" fill-rule="evenodd"/>
<rect x="404" y="345" width="1" height="1" fill="#000000"/>
<rect x="404" y="354" width="1" height="5" fill="#000000"/>
<path d="M403,346h3v8h-3z M404,347v6h1v-6z" fill="#000000" fill-rule="evenodd"/>
<rect x="407" y="332" width="1" height="17" fill="#000000"/>
<rect x="406" y="333" width="3" height="15" fill="#000000"/>
<rect x="410" y="324" width="1" height="1" fill="#000000"/>
<rect x="410" y="332" width="1" height="3" fill="#000000"/>
<path d="M409,325h3v7h-3z M410,326v5h1v-5z" fill="#000000" fill-rule="evenodd"/>
<rect x="413" y="320" width="1" height="16" fill="#e00000"/>
<rect x="412" y="325" width="3" height="3" fill="#e00000"/>
<rect x="416" y="326" width="1" height="15" fill="#e00000"/>
<rect x="415" y="327" width="3" height="6" fill="#e00000"/>
<rect x="418" y="329" width="1" height="15" fill="#e00000"/>
<rect x="417" y="331" width="3" height="5" fill="#e00000"/>
<rect x="421" y="315" width="1" height="21" fill="#000000"/>
<rect x="420" y="315" width="3" height="21" fill="#000000"/>
<rect x="424" y="308" width="1" height="9" fill="#000000"/>
<rect x="423" y="308" width="3" height="8" fill="#000000"/>
<rect x="427" y="297" width="1" height="3" fill="#000000"/>
<rect x="427" y="312" width="1" height="1" fill="#000000"/>
<path d="M426,300h3v12h-3z M427,301v10h1v-10z" fill="#000000" fill-rule="evenodd"/>
<rect x="430" y="292" width="1" height="15" fill="#e00000"/>
<rect x="429" y="298" width="3" height="5" fill="#e00000"/>
<rect x="433" y="286" width="1" height="23" fill="#000000"/>
<rect x="432" y="300" width="3" height="1" fill="#000000"/>
<rect x="435" y="296" width="1" height="38" fill="#e00000"/>
<rect x="434" y="300" width="3" height="29" fill="#e00000"/>
<rect x="438" y="313" width="1" height="3" fill="#000000"/>
<rect x="438" y="322" width="1" height="11" fill="#000000"/>
<path d="M437,316h3v6h-3z M438,317v4h1v-4z" fill="#000000" fill-rule="evenodd"/>
<rect x="441" y="302" width="1" height="17" fill="#000000"/>
<rect x="440" y="309" width="3" height="6" fill="#000000"/>
<rect x="444" y="307" width="1" height="22" fill="#e00000"/>
<rect x="443" y="309" width="3" height="7" fill="#e00000"/>
<rect x="447" y="316" width="1" height="19" fill="#e00000"/>
<rect x="446" y="316" width="3" height="17" fill="#e00000"/>
<rect x="450" y="326" width="1" height="27" fill="#e00000"/>
<rect x="449" y="330" width="3" height="16" fill="#e00000"/>
<rect x="452" y="336" width="1" height="27" fill="#e00000"/>
<rect x="451" y="345" width="3" height="4" fill="#e00000"/>
<rect x="455" y="339" width="1" height="18" fill="#e00000"/>
<rect x="454" y="349" width="3" height="2" fill="#e00000"/>
<rect x="458" y="335" width="1" height="21" fill="#e00000"/>
<rect x="457" y="350" width="3" height="6" fill="#e00000"/>
<rect x="461" y="352" width="1" height="24" fill="#e00000"/>
<rect x="460" y="353" width="3" height="13" fill="#e00000"/>
<rect x="464" y="361" width="1" height="4" fill="#000000"/>
<rect x="464" y="368" width="1" height="12" fill="#000000"/>
<path d="M463,365h3v3h-3z M464,366v1h1v-1z" fill="#000000" fill-rule="evenodd"/>
<rect x="467" y="351" width="1" height="7" fill="#000000"/>
<rect x="467" y="365" width="1" height="3" fill="#000000"/>
<path d="M466,358h3v7h-3z M467,359v5h1v-5z" fill="#000000" fill-rule="evenodd"/>
<rect x="469" y="348" width="1" height="19" fill="#e00000"/>
<rect x="468" y="358" width="3" height="7" fill="#e00000"/>
<rect x="472" y="355" width="1" height="2" fill="#000000"/>
<rect x="472" y="365" width="1" height="10" fill="#000000"/>
<path d="M471,357h3v8h-3z M472,358v6h1v-6z" fill="#000000" fill-rule="evenodd"/>
<rect x="475" y="352" width="1" height="13" fill="#e00000"/>
<rect x="474" y="359" width="3" height="2" fill="#e00000"/>
<rect x="478" y="355" width="1" height="14" fill="#000000"/>
<rect x="477" y="359" width="3" height="2" fill="#000000"/>
<rect x="481" y="341" width="1" height="1" fill="#000000"/>
<rect x="481" y="359" width="1" height="5" fill="#000000"/>
<path d="M480,342h3v17h-3z M481,343v15h1v-15z" fill="#000000" fill-rule="evenodd"/>
<rect x="484" y="337" width="1" height="28" fill="#e00000"/>
<rect x="483" y="338" width="3" height="26" fill="#e00000"/>
<rect x="486" y="345" width="1" height="1" fill="#000000"/>
<rect x="486" y="361" width="1" height="4" fill="#000000"/>
<path d="M485,346h3v15h-3z M486,347v13h1v-13z" fill="#000000" fill-rule="evenodd"/>
<rect x="489" y="341" width="1" height="1" fill="#000000"/>
<rect x="489" y="347" width="1" height="4" fill="#000000"/>
<path d="M488,342h3v5h-3z M489,343v3h1v-3z" fill="#000000" fill-rule="evenodd"/>
<rect x="492" y="340" width="1" height="10" fill="#e00000"/>
<rect x="491" y="341" width="3" height="7" fill="#e00000"/>
<rect x="495" y="334" width="1" height="18" fill="#000000"/>
<rect x="494" y="337" width="3" height="9" fill="#000000"/>
<rect x="498" y="334" width="1" height="12" fill="#e00000"/>
<rect x="497" y="336" width="3" height="8" fill="#e00000"/>
<rect x="501" y="329" width="1" height="3" fill="#000000"/>
<rect x="501" y="344" width="1" height="4" fill="#000000"/>
<path d="M500,332h3v12h-3z M501,333v10h1v-10z" fill="#000000" fill-rule="evenodd"/>
<rect x="503" y="321" width="1" height="12" fill="#000000"/>
<rect x="502" y="328" width="3" height="4" fill="#000000"/>
<rect x="506" y="330" width="1" height="2" fill="#000000"/>
<path d="M505,322h3v8h-3z M506,323v6h1v-6z" fill="#000000" fill-rule="evenodd"/>
<rect x="509" y="305" width="1" height="2" fill="#000000"/>
<rect x="509" y="322" width="1" height="1" fill="#000000"/>
<path d="M508,307h3v15h-3z M509,308v13h1v-13z" fill="#000000" fill-rule="evenodd"/>
<rect x="512" y="306" width="1" height="16" fill="#e00000"/>
<rect x="511" y="310" width="3" height="6" fill="#e00000"/>
<rect x="515" y="310" width="1" height="18" fill="#e00000"/>
<rect x="514" y="311" width="3" height="11" fill="#e00000"/>
<rect x="518" y="316" width="1" height="4" fill="#000000"/>
<rect x="518" y="325" width="1" height="5" fill="#000000"/>
<path d="M517,320h3v5h-3z M518,321v3h1v-3z" fill="#000000" fill-rule="evenodd"/>
<rect x="520" y="318" width="1" height="23" fill="#e00000"/>
<rect x="519" y="321" width="3" height="20" fill="#e00000"/>
<rect x="523" y="334" width="1" height="10" fill="#000000"/>
<rect x="522" y="339" width="3" height="1" fill="#000000"/>
<rect x="526" y="335" width="1" height="1" fill="#000000"/>
<rect x="526" y="339" width="1" height="7" fill="#000000"/>
<path d="M525,336h3v3h-3z M526,337v1h1v-1z" fill="#000000" fill-rule="evenodd"/>
<rect x="529" y="333" width="1" height="14" fill="#e00000"/>
<rect x="528" y="336" width="3" height="9" fill="#e00000"/>
<rect x="532" y="332" width="1" height="14" fill="#e00000"/>
<rect x="531" y="336" width="3" height="9" fill="#e00000"/>
<rect x="535" y="349" width="1" height="10" fill="#e00000"/>
<rect x="534" y="349" width="3" height="2" fill="#e00000"/>
<rect x="537" y="336" width="1" height="6" fill="#000000"/>
<rect x="537" y="349" width="1" height="1" fill="#000000"/>
<path d="M536,342h3v7h-3z M537,343v5h1v-5z" fill="#000000" fill-rule="evenodd"/>
<rect x="540" y="326" width="1" height="4" fill="#000000"/>
<path d="M539,330h3v9h-3z M540,331v7h1v-7z" fill="#000000" fill-rule="evenodd"/>
<rect x="543" y="326" width="1" height="1" fill="#000000"/>
<path d="M542,327h3v6h-3z M543,328v4h1v-4z" fill="#000000" fill-rule="evenodd"/>
<rect x="546" y="316" width="1" height="5" fill="#000000"/>
<rect x="546" y="325" width="1" height="2" fill="#000000"/>
<path d="M545,321h3v4h-3z M546,322v2h1v-2z" fill="#000000" fill-rule="evenodd"/>
<rect x="549" y="319" width="1" height="9" fill="#e00000"/>
<rect x="548" y="324" width="3" height="4" fill="#e00000"/>
<rect x="552" y="324" width="1" height="16" fill="#e00000"/>
<rect x="551" y="324" width="3" height="16" fill="#e00000"/>
<rect x="554" y="339" width="1" height="9" fill="#e00000"/>
<rect x="553" y="342" width="3" height="3" fill="#e00000"/>
<rect x="557" y="338" width="1" height="22" fill="#e00000"/>
<rect x="556" y="343" width="3" height="16" fill="#e00000"/>
<rect x="560" y="362" width="1" height="1" fill="#000000"/>
<path d="M559,345h3v17h-3z M560,346v15h1v-15z" fill="#000000" fill-rule="evenodd"/>
<rect x="563" y="333" width="1" height="19" fill="#e00000"/>
<rect x="562" y="341" width="3" height="2" fill="#e00000"/>
<rect x="566" y="343" width="1" height="13" fill="#e00000"/>
<rect x="565" y="343" width="3" height="11" fill="#e00000"/>
<rect x="569" y="343" width="1" height="23" fill="#e00000"/>
<rect x="568" y="343" width="3" height="16" fill="#e00000"/>
<rect x="571" y="367" width="1" height="17" fill="#e00000"/>
<rect x="570" y="367" width="3" height="14" fill="#e00000"/>
<rect x="574" y="371" width="1" height="7" fill="#000000"/>
<rect x="574" y="381" width="1" height="9" fill="#000000"/>
<path d="M573,378h3v3h-3z M574,379v1h1v-1z" fill="#000000" fill-rule="evenodd"/>
<rect x="577" y="366" width="1" height="3" fill="#000000"/>
<rect x="577" y="373" width="1" height="4" fill="#000000"/>
<path d="M576,369h3v4h-3z M577,370v2h1v-2z" fill="#000000" fill-rule="evenodd"/>
<rect x="580" y="364" width="1" height="21" fill="#e00000"/>
<rect x="579" y="367" width="3" height="13" fill="#e00000"/>
<rect x="583" y="355" width="1" height="26" fill="#000000"/>
<rect x="582" y="355" width="3" height="25" fill="#000000"/>
<rect x="586" y="343" width="1" height="7" fill="#000000"/>
<path d="M585,350h3v16h-3z M586,351v14h1v-14z" fill="#000000" fill-rule="evenodd"/>
<rect x="589" y="354" width="1" height="26" fill="#e00000"/>
<rect x="588" y="356" width="3" height="22" fill="#e00000"/>
<rect x="591" y="364" width="1" height="1" fill="#000000"/>
<rect x="591" y="372" width="1" height="4" fill="#000000"/>
<path d="M590,365h3v7h-3z M591,366v5h1v-5z" fill="#000000" fill-rule="evenodd"/>
<rect x="594" y="367" width="1" height="8" fill="#e00000"/>
<rect x="594" y="382" width="1" height="3" fill="#e00000"/>
<path d="M593,375h3v7h-3z M594,376v5h1v-5z" fill="#e00000" fill-rule="evenodd"/>
<rect x="597" y="361" width="1" height="11" fill="#000000"/>
<rect x="596" y="367" width="3" height="3" fill="#000000"/>
<rect x="600" y="374" width="1" height="11" fill="#e00000"/>
<rect x="599" y="377" width="3" height="7" fill="#e00000"/>
<rect x="603" y="366" width="1" height="1" fill="#000000"/>
<path d="M602,367h3v13h-3z M603,368v11h1v-11z" fill="#000000" fill-rule="evenodd"/>
<rect x="606" y="370" width="1" height="10" fill="#e00000"/>
<rect x="605" y="372" width="3" height="5" fill="#e00000"/>
<rect x="608" y="370" width="1" height="14" fill="#e00000"/>
<rect x="607" y="374" width="3" height="10" fill="#e00000"/>
<rect x="611" y="366" width="1" height="1" fill="#000000"/>
<rect x="611" y="379" width="1" height="1" fill="#000000"/>
<path d="M610,367h3v12h-3z M611,368v10h1v-10z" fill="#000000" fill-rule="evenodd"/>
<rect x="614" y="369" width="1" height="7" fill="#e00000"/>
<rect x="613" y="369" width="3" height="5" fill="#e00000"/>
<rect x="617" y="369" width="1" height="9" fill="#000000"/>
<rect x="616" y="369" width="3" height="5" fill="#000000"/>
<rect x="620" y="355" width="1" height="2" fill="#000000"/>
<rect x="620" y="368" width="1" height="2" fill="#000000"/>
<path d="M619,357h3v11h-3z M620,358v9h1v-9z" fill="#000000" fill-rule="evenodd"/>
<rect x="623" y="342" width="1" height="4" fill="#000000"/>
<rect x="623" y="355" width="1" height="6" fill="#000000"/>
<path d="M622,346h3v9h-3z M623,347v7h1v-7z" fill="#000000" fill-rule="evenodd"/>
<rect x="625" y="336" width="1" height="10" fill="#000000"/>
<rect x="624" y="342" width="3" height="3" fill="#000000"/>
<rect x="628" y="347" width="1" height="9" fill="#e00000"/>
<rect x="627" y="349" width="3" height="6" fill="#e00000"/>
<rect x="631" y="354" width="1" height="11" fill="#e00000"/>
<rect x="630" y="355" width="3" height="8" fill="#e00000"/>
<rect x="634" y="357" width="1" height="14" fill="#e00000"/>
<rect x="633" y="358" width="3" height="10" fill="#e00000"/>
<rect x="637" y="359" width="1" height="13" fill="#e00000"/>
<rect x="636" y="360" width="3" height="10" fill="#e00000"/>
<rect x="640" y="360" width="1" height="12" fill="#e00000"/>
<rect x="639" y="365" width="3" height="6" fill="#e00000"/>
<rect x="642" y="368" width="1" height="11" fill="#e00000"/>
<rect x="641" y="370" width="3" height="4" fill="#e00000"/>
<rect x="645" y="370" width="1" height="20" fill="#e00000"/>
<rect x="644" y="371" width="3" height="13" fill="#e00000"/>
<rect x="648" y="380" width="1" height="8" fill="#000000"/>
<rect x="647" y="383" width="3" height="1" fill="#000000"/>
<rect x="651" y="382" width="1" height="4" fill="#000000"/>
<path d="M650,378h3v4h-3z M651,379v2h1v-2z" fill="#000000" fill-rule="evenodd"/>
<rect x="654" y="371" width="1" height="7" fill="#000000"/>
<rect x="653" y="374" width="3" height="4" fill="#000000"/>
<rect x="657" y="363" width="1" height="46" fill="#e00000"/>
<rect x="656" y="372" width="3" height="32" fill="#e00000"/>
<rect x="659" y="395" width="1" height="10" fill="#e00000"/>
<rect x="659" y="408" width="1" height="18" fill="#e00000"/>
<path d="M658,405h3v3h-3z M659,406v1h1v-1z" fill="#e00000" fill-rule="evenodd"/>
<rect x="662" y="402" width="1" height="6" fill="#000000"/>
<path d="M661,392h3v10h-3z M662,393v8h1v-8z" fill="#000000" fill-rule="evenodd"/>
<rect x="665" y="394" width="1" height="11" fill="#e00000"/>
<rect x="664" y="399" width="3" height="2" fill="#e00000"/>
<rect x="668" y="398" width="1" height="21" fill="#e00000"/>
<rect x="667" y="398" width="3" height="20" fill="#e00000"/>
<rect x="671" y="406" width="1" height="19" fill="#000000"/>
<rect x="670" y="406" width="3" height="14" fill="#000000"/>
<rect x="674" y="395" width="1" height="11" fill="#000000"/>
<rect x="673" y="398" width="3" height="4" fill="#000000"/>
<rect x="676" y="398" width="1" height="12" fill="#e00000"/>
<rect x="675" y="402" width="3" height="3" fill="#e00000"/>
<rect x="679" y="401" width="1" height="11" fill="#e00000"/>
<rect x="678" y="406" width="3" height="2" fill="#e00000"/>
<rect x="682" y="392" width="1" height="1" fill="#000000"/>
<rect x="682" y="397" width="1" height="5" fill="#000000"/>
<path d="M681,393h3v4h-3z M682,394v2h1v-2z" fill="#000000" fill-rule="evenodd"/>
<rect x="685" y="356" width="1" height="4" fill="#000000"/>
<rect x="685" y="393" width="1" height="1" fill="#000000"/>
<path d="M684,360h3v33h-3z M685,361v31h1v-31z" fill="#000000" fill-rule="evenodd"/>
<rect x="688" y="342" width="1" height="24" fill="#000000"/>
<rect x="687" y="357" width="3" height="9" fill="#000000"/>
<rect x="691" y="339" width="1" height="57" fill="#e00000"/>
<rect x="690" y="341" width="3" height="45" fill="#e00000"/>
<rect x="693" y="382" width="1" height="2" fill="#000000"/>
<rect x="693" y="390" width="1" height="3" fill="#000000"/>
<path d="M692,384h3v6h-3z M693,385v4h1v-4z" fill="#000000" fill-rule="evenodd"/>
<rect x="696" y="376" width="1" height="2" fill="#000000"/>
<rect x="696" y="382" width="1" height="2" fill="#000000"/>
<path d="M695,378h3v4h-3z M696,379v2h1v-2z" fill="#000000" fill-rule="evenodd"/>
<rect x="699" y="377" width="1" height="10" fill="#e00000"/>
<rect x="698" y="378" width="3" height="5" fill="#e00000"/>
<rect x="702" y="385" width="1" height="8" fill="#e00000"/>
<rect x="701" y="387" width="3" height="3" fill="#e00000"/>
<rect x="705" y="370" width="1" height="17" fill="#000000"/>
<rect x="704" y="382" width="3" height="3" fill="#000000"/>
<rect x="708" y="386" width="1" height="15" fill="#e00000"/>
<rect x="707" y="388" width="3" height="8" fill="#e00000"/>
<rect x="710" y="393" width="1" height="11" fill="#e00000"/>
<rect x="709" y="393" width="3" height="11" fill="#e00000"/>
<rect x="713" y="395" width="1" height="1" fill="#000000"/>
<rect x="713" y="401" width="1" height="4" fill="#000000"/>
<path d="M712,396h3v5h-3z M713,397v3h1v-3z" fill="#000000" fill-rule="evenodd"/>
<rect x="716" y="391" width="1" height="8" fill="#000000"/>
<rect x="715" y="395" width="3" height="1" fill="#000000"/>
<rect x="719" y="388" width="1" height="18" fill="#e00000"/>
<rect x="718" y="391" width="3" height="13" fill="#e00000"/>
<rect x="722" y="395" width="1" height="9" fill="#000000"/>
<rect x="721" y="398" width="3" height="1" fill="#000000"/>
<rect x="725" y="392" width="1" height="11" fill="#e00000"/>
<rect x="724" y="398" width="3" height="4" fill="#e00000"/>
<rect x="727" y="386" width="1" height="2" fill="#000000"/>
<path d="M726,388h3v16h-3z M727,389v14h1v-14z" fill="#000000" fill-rule="evenodd"/>
<rect x="730" y="395" width="1" height="15" fill="#e00000"/>
<rect x="729" y="395" width="3" height="13" fill="#e00000"/>
<rect x="733" y="399" width="1" height="19" fill="#e00000"/>
<rect x="732" y="405" width="3" height="13" fill="#e00000"/>
<rect x="736" y="410" width="1" height="12" fill="#e00000"/>
<rect x="735" y="412" width="3" height="8" fill="#e00000"/>
</g>
<path d="M12.5,436.5 L28.0,437.6 L37.0,437.6 L46.4,436.9 L64.5,434.5 L82.7,432.2 L110.0,427.8 L125.5,425.5 L153.8,422.0 L182.2,418.4 L210.6,414.1 L227.6,409.9 L240.0,406.9 L252.0,404.8 L268.4,402.7 L288.2,399.0 L308.1,393.3 L325.1,391.3 L353.5,389.0 L381.8,384.8 L410.2,381.1 L438.6,375.4 L467.0,371.5 L480.0,367.5 L510.7,358.4 L541.5,350.1 L556.8,344.6 L572.2,340.9 L602.9,336.9 L627.5,334.8 L652.1,333.8 L676.7,333.8 L695.1,335.4 L713.6,336.9 L736.6,339.4" fill="none" stroke="#d01010" stroke-width="1.1"/>
<line x1="421" y1="281" x2="784.5" y2="376.5" stroke="#0000ff" stroke-width="2.2" stroke-dasharray="4,2"/>
<line x1="52.7" y1="416" x2="781" y2="381.2" stroke="#0000ff" stroke-width="2.2" stroke-dasharray="4,2"/>
<path d="M578.7,321.2 L587.7,321.2 L587.7,328.895 L591.7,328.895 L583.2,338.3 L574.7,328.895 L578.7,328.895 Z" fill="#ff0000"/>
<path d="M617.5,315.6 L626.5,315.6 L626.5,323.25 L630.5,323.25 L622,332.6 L613.5,323.25 L617.5,323.25 Z" fill="#ff0000"/>
<path d="M688.6,314.2 L697.6,314.2 L697.6,321.31 L701.6,321.31 L693.1,330 L684.6,321.31 L688.6,321.31 Z" fill="#ff0000"/>
<path d="M720.3,365.4 L729.3,365.4 L729.3,372.87 L733.3,372.87 L724.8,382 L716.3,372.87 L720.3,372.87 Z" fill="#ff0000"/>
<path d="M725.4,68.3 L734.4,68.3 L734.4,75.95 L738.4,75.95 L729.9,85.3 L721.4,75.95 L725.4,75.95 Z" fill="#ff0000"/>
<path d="M355.5,391.5 L364.0,399.82 L360.0,399.82 L360.0,407.5 L351.0,407.5 L351.0,399.82 L347.0,399.82 Z" fill="#3a8a1e"/>
<path d="M395.5,389 L404.0,397.32 L400.0,397.32 L400.0,405 L391.0,405 L391.0,397.32 L387.0,397.32 Z" fill="#3a8a1e"/>
<path d="M474.6,373.7 L483.1,382.072 L479.1,382.072 L479.1,389.8 L470.1,389.8 L470.1,382.072 L466.1,382.072 Z" fill="#3a8a1e"/>
<path d="M536.7,357.7 L545.2,366.176 L541.2,366.176 L541.2,374 L532.2,374 L532.2,366.176 L528.2,366.176 Z" fill="#3a8a1e"/>
<g shape-rendering="crispEdges">
<rect x="13" y="571" width="2" height="3" fill="#866c9c" fill-opacity="0.6"/>
<rect x="12" y="570" width="1" height="4" fill="#5e4e66"/>
<rect x="15" y="570" width="1" height="4" fill="#5e4e66"/>
<rect x="12" y="570" width="4" height="1" fill="#5e4e66"/>
<rect x="16" y="570" width="2" height="4" fill="#866c9c" fill-opacity="0.6"/>
<rect x="15" y="569" width="1" height="5" fill="#5e4e66"/>
<rect x="18" y="569" width="1" height="5" fill="#5e4e66"/>
<rect x="15" y="569" width="4" height="1" fill="#5e4e66"/>
<rect x="19" y="569" width="2" height="5" fill="#866c9c" fill-opacity="0.6"/>
<rect x="18" y="568" width="1" height="6" fill="#5e4e66"/>
<rect x="21" y="568" width="1" height="6" fill="#5e4e66"/>
<rect x="18" y="568" width="4" height="1" fill="#5e4e66"/>
<rect x="22" y="566" width="1" height="8" fill="#866c9c" fill-opacity="0.6"/>
<rect x="21" y="565" width="1" height="9" fill="#5e4e66"/>
<rect x="23" y="565" width="1" height="9" fill="#5e4e66"/>
<rect x="21" y="565" width="3" height="1" fill="#5e4e66"/>
<rect x="24" y="566" width="2" height="8" fill="#866c9c" fill-opacity="0.6"/>
<rect x="23" y="565" width="1" height="9" fill="#5e4e66"/>
<rect x="26" y="565" width="1" height="9" fill="#5e4e66"/>
<rect x="23" y="565" width="4" height="1" fill="#5e4e66"/>
<rect x="27" y="567" width="2" height="7" fill="#866c9c" fill-opacity="0.6"/>
<rect x="26" y="566" width="1" height="8" fill="#5e4e66"/>
<rect x="29" y="566" width="1" height="8" fill="#5e4e66"/>
<rect x="26" y="566" width="4" height="1" fill="#5e4e66"/>
<rect x="30" y="566" width="2" height="8" fill="#866c9c" fill-opacity="0.6"/>
<rect x="29" y="565" width="1" height="9" fill="#5e4e66"/>
<rect x="32" y="565" width="1" height="9" fill="#5e4e66"/>
<rect x="29" y="565" width="4" height="1" fill="#5e4e66"/>
<rect x="33" y="566" width="2" height="8" fill="#866c9c" fill-opacity="0.6"/>
<rect x="32" y="565" width="1" height="9" fill="#5e4e66"/>
<rect x="35" y="565" width="1" height="9" fill="#5e4e66"/>
<rect x="32" y="565" width="4" height="1" fill="#5e4e66"/>
<rect x="36" y="566" width="2" height="8" fill="#866c9c" fill-opacity="0.6"/>
<rect x="35" y="565" width="1" height="9" fill="#5e4e66"/>
<rect x="38" y="565" width="1" height="9" fill="#5e4e66"/>
<rect x="35" y="565" width="4" height="1" fill="#5e4e66"/>
<rect x="39" y="567" width="1" height="7" fill="#866c9c" fill-opacity="0.6"/>
<rect x="38" y="566" width="1" height="8" fill="#5e4e66"/>
<rect x="40" y="566" width="1" height="8" fill="#5e4e66"/>
<rect x="38" y="566" width="3" height="1" fill="#5e4e66"/>
<rect x="41" y="568" width="2" height="6" fill="#866c9c" fill-opacity="0.6"/>
<rect x="40" y="567" width="1" height="7" fill="#5e4e66"/>
<rect x="43" y="567" width="1" height="7" fill="#5e4e66"/>
<rect x="40" y="567" width="4" height="1" fill="#5e4e66"/>
<rect x="44" y="566" width="2" height="8" fill="#866c9c" fill-opacity="0.6"/>
<rect x="43" y="565" width="1" height="9" fill="#5e4e66"/>
<rect x="46" y="565" width="1" height="9" fill="#5e4e66"/>
<rect x="43" y="565" width="4" height="1" fill="#5e4e66"/>
<rect x="47" y="564" width="2" height="10" fill="#866c9c" fill-opacity="0.6"/>
<rect x="46" y="563" width="1" height="11" fill="#5e4e66"/>
<rect x="49" y="563" width="1" height="11" fill="#5e4e66"/>
<rect x="46" y="563" width="4" height="1" fill="#5e4e66"/>
<rect x="50" y="564" width="2" height="10" fill="#866c9c" fill-opacity="0.6"/>
<rect x="49" y="563" width="1" height="11" fill="#5e4e66"/>
<rect x="52" y="563" width="1" height="11" fill="#5e4e66"/>
<rect x="49" y="563" width="4" height="1" fill="#5e4e66"/>
<rect x="53" y="564" width="2" height="10" fill="#866c9c" fill-opacity="0.6"/>
<rect x="52" y="563" width="1" height="11" fill="#5e4e66"/>
<rect x="55" y="563" width="1" height="11" fill="#5e4e66"/>
<rect x="52" y="563" width="4" height="1" fill="#5e4e66"/>
<rect x="56" y="562" width="1" height="12" fill="#866c9c" fill-opacity="0.6"/>
<rect x="55" y="561" width="1" height="13" fill="#5e4e66"/>
<rect x="57" y="561" width="1" height="13" fill="#5e4e66"/>
<rect x="55" y="561" width="3" height="1" fill="#5e4e66"/>
<rect x="58" y="563" width="2" height="11" fill="#866c9c" fill-opacity="0.6"/>
<rect x="57" y="562" width="1" height="12" fill="#5e4e66"/>
<rect x="60" y="562" width="1" height="12" fill="#5e4e66"/>
<rect x="57" y="562" width="4" height="1" fill="#5e4e66"/>
<rect x="61" y="566" width="2" height="8" fill="#866c9c" fill-opacity="0.6"/>
<rect x="60" y="565" width="1" height="9" fill="#5e4e66"/>
<rect x="63" y="565" width="1" height="9" fill="#5e4e66"/>
<rect x="60" y="565" width="4" height="1" fill="#5e4e66"/>
<rect x="64" y="569" width="2" height="5" fill="#866c9c" fill-opacity="0.6"/>
<rect x="63" y="568" width="1" height="6" fill="#5e4e66"/>
<rect x="66" y="568" width="1" height="6" fill="#5e4e66"/>
<rect x="63" y="568" width="4" height="1" fill="#5e4e66"/>
<rect x="67" y="571" width="2" height="3" fill="#866c9c" fill-opacity="0.6"/>
<rect x="66" y="570" width="1" height="4" fill="#5e4e66"/>
<rect x="69" y="570" width="1" height="4" fill="#5e4e66"/>
<rect x="66" y="570" width="4" height="1" fill="#5e4e66"/>
<rect x="70" y="574" width="2" height="0" fill="#866c9c" fill-opacity="0.6"/>
<rect x="69" y="573" width="1" height="1" fill="#5e4e66"/>
<rect x="72" y="573" width="1" height="1" fill="#5e4e66"/>
<rect x="69" y="573" width="4" height="1" fill="#5e4e66"/>
<rect x="72" y="574" width="2" height="1" fill="#5e4e66"/>
<rect x="75" y="574" width="2" height="1" fill="#866c9c" fill-opacity="0.6"/>
<rect x="74" y="574" width="1" height="2" fill="#5e4e66"/>
<rect x="77" y="574" width="1" height="2" fill="#5e4e66"/>
<rect x="74" y="575" width="4" height="1" fill="#5e4e66"/>
<rect x="78" y="574" width="2" height="1" fill="#866c9c" fill-opacity="0.6"/>
<rect x="77" y="574" width="1" height="2" fill="#5e4e66"/>
<rect x="80" y="574" width="1" height="2" fill="#5e4e66"/>
<rect x="77" y="575" width="4" height="1" fill="#5e4e66"/>
<rect x="81" y="574" width="2" height="1" fill="#866c9c" fill-opacity="0.6"/>
<rect x="80" y="574" width="1" height="2" fill="#5e4e66"/>
<rect x="83" y="574" width="1" height="2" fill="#5e4e66"/>
<rect x="80" y="575" width="4" height="1" fill="#5e4e66"/>
<rect x="83" y="574" width="3" height="1" fill="#5e4e66"/>
<rect x="87" y="574" width="2" height="2" fill="#866c9c" fill-opacity="0.6"/>
<rect x="86" y="574" width="1" height="3" fill="#5e4e66"/>
<rect x="89" y="574" width="1" height="3" fill="#5e4e66"/>
<rect x="86" y="576" width="4" height="1" fill="#5e4e66"/>
<rect x="90" y="574" width="1" height="1" fill="#866c9c" fill-opacity="0.6"/>
<rect x="89" y="574" width="1" height="2" fill="#5e4e66"/>
<rect x="91" y="574" width="1" height="2" fill="#5e4e66"/>
<rect x="89" y="575" width="3" height="1" fill="#5e4e66"/>
<rect x="91" y="574" width="3" height="1" fill="#5e4e66"/>
<rect x="95" y="574" width="2" height="0" fill="#866c9c" fill-opacity="0.6"/>
<rect x="94" y="573" width="1" height="1" fill="#5e4e66"/>
<rect x="97" y="573" width="1" height="1" fill="#5e4e66"/>
<rect x="94" y="573" width="4" height="1" fill="#5e4e66"/>
<rect x="98" y="573" width="2" height="1" fill="#866c9c" fill-opacity="0.6"/>
<rect x="97" y="572" width="1" height="2" fill="#5e4e66"/>
<rect x="100" y="572" width="1" height="2" fill="#5e4e66"/>
<rect x="97" y="572" width="4" height="1" fill="#5e4e66"/>
<rect x="101" y="571" width="2" height="3" fill="#866c9c" fill-opacity="0.6"/>
<rect x="100" y="570" width="1" height="4" fill="#5e4e66"/>
<rect x="103" y="570" width="1" height="4" fill="#5e4e66"/>
<rect x="100" y="570" width="4" height="1" fill="#5e4e66"/>
<rect x="104" y="571" width="2" height="3" fill="#866c9c" fill-opacity="0.6"/>
<rect x="103" y="570" width="1" height="4" fill="#5e4e66"/>
<rect x="106" y="570" width="1" height="4" fill="#5e4e66"/>
<rect x="103" y="570" width="4" height="1" fill="#5e4e66"/>
<rect x="107" y="571" width="1" height="3" fill="#866c9c" fill-opacity="0.6"/>
<rect x="106" y="570" width="1" height="4" fill="#5e4e66"/>
<rect x="108" y="570" width="1" height="4" fill="#5e4e66"/>
<rect x="106" y="570" width="3" height="1" fill="#5e4e66"/>
<rect x="109" y="573" width="2" height="1" fill="#866c9c" fill-opacity="0.6"/>
<rect x="108" y="572" width="1" height="2" fill="#5e4e66"/>
<rect x="111" y="572" width="1" height="2" fill="#5e4e66"/>
<rect x="108" y="572" width="4" height="1" fill="#5e4e66"/>
<rect x="111" y="574" width="3" height="1" fill="#5e4e66"/>
<rect x="115" y="574" width="2" height="4" fill="#866c9c" fill-opacity="0.6"/>
<rect x="114" y="574" width="1" height="5" fill="#5e4e66"/>
<rect x="117" y="574" width="1" height="5" fill="#5e4e66"/>
<rect x="114" y="578" width="4" height="1" fill="#5e4e66"/>
<rect x="118" y="574" width="2" height="7" fill="#866c9c" fill-opacity="0.6"/>
<rect x="117" y="574" width="1" height="8" fill="#5e4e66"/>
<rect x="120" y="574" width="1" height="8" fill="#5e4e66"/>
<rect x="117" y="581" width="4" height="1" fill="#5e4e66"/>
<rect x="121" y="574" width="2" height="10" fill="#866c9c" fill-opacity="0.6"/>
<rect x="120" y="574" width="1" height="11" fill="#5e4e66"/>
<rect x="123" y="574" width="1" height="11" fill="#5e4e66"/>
<rect x="120" y="584" width="4" height="1" fill="#5e4e66"/>
<rect x="124" y="574" width="1" height="10" fill="#866c9c" fill-opacity="0.6"/>
<rect x="123" y="574" width="1" height="11" fill="#5e4e66"/>
<rect x="125" y="574" width="1" height="11" fill="#5e4e66"/>
<rect x="123" y="584" width="3" height="1" fill="#5e4e66"/>
<rect x="126" y="574" width="2" height="9" fill="#866c9c" fill-opacity="0.6"/>
<rect x="125" y="574" width="1" height="10" fill="#5e4e66"/>
<rect x="128" y="574" width="1" height="10" fill="#5e4e66"/>
<rect x="125" y="583" width="4" height="1" fill="#5e4e66"/>
<rect x="129" y="574" width="2" height="8" fill="#866c9c" fill-opacity="0.6"/>
<rect x="128" y="574" width="1" height="9" fill="#5e4e66"/>
<rect x="131" y="574" width="1" height="9" fill="#5e4e66"/>
<rect x="128" y="582" width="4" height="1" fill="#5e4e66"/>
<rect x="132" y="574" width="2" height="6" fill="#866c9c" fill-opacity="0.6"/>
<rect x="131" y="574" width="1" height="7" fill="#5e4e66"/>
<rect x="134" y="574" width="1" height="7" fill="#5e4e66"/>
<rect x="131" y="580" width="4" height="1" fill="#5e4e66"/>
<rect x="135" y="574" width="2" height="4" fill="#866c9c" fill-opacity="0.6"/>
<rect x="134" y="574" width="1" height="5" fill="#5e4e66"/>
<rect x="137" y="574" width="1" height="5" fill="#5e4e66"/>
<rect x="134" y="578" width="4" height="1" fill="#5e4e66"/>
<rect x="138" y="574" width="2" height="2" fill="#866c9c" fill-opacity="0.6"/>
<rect x="137" y="574" width="1" height="3" fill="#5e4e66"/>
<rect x="140" y="574" width="1" height="3" fill="#5e4e66"/>
<rect x="137" y="576" width="4" height="1" fill="#5e4e66"/>
<rect x="141" y="573" width="1" height="1" fill="#866c9c" fill-opacity="0.6"/>
<rect x="140" y="572" width="1" height="2" fill="#5e4e66"/>
<rect x="142" y="572" width="1" height="2" fill="#5e4e66"/>
<rect x="140" y="572" width="3" height="1" fill="#5e4e66"/>
<rect x="143" y="571" width="2" height="3" fill="#866c9c" fill-opacity="0.6"/>
<rect x="142" y="570" width="1" height="4" fill="#5e4e66"/>
<rect x="145" y="570" width="1" height="4" fill="#5e4e66"/>
<rect x="142" y="570" width="4" height="1" fill="#5e4e66"/>
<rect x="146" y="569" width="2" height="5" fill="#866c9c" fill-opacity="0.6"/>
<rect x="145" y="568" width="1" height="6" fill="#5e4e66"/>
<rect x="148" y="568" width="1" height="6" fill="#5e4e66"/>
<rect x="145" y="568" width="4" height="1" fill="#5e4e66"/>
<rect x="149" y="569" width="2" height="5" fill="#866c9c" fill-opacity="0.6"/>
<rect x="148" y="568" width="1" height="6" fill="#5e4e66"/>
<rect x="151" y="568" width="1" height="6" fill="#5e4e66"/>
<rect x="148" y="568" width="4" height="1" fill="#5e4e66"/>
<rect x="152" y="570" width="2" height="4" fill="#866c9c" fill-opacity="0.6"/>
<rect x="151" y="569" width="1" height="5" fill="#5e4e66"/>
<rect x="154" y="569" width="1" height="5" fill="#5e4e66"/>
<rect x="151" y="569" width="4" height="1" fill="#5e4e66"/>
<rect x="155" y="572" width="2" height="2" fill="#866c9c" fill-opacity="0.6"/>
<rect x="154" y="571" width="1" height="3" fill="#5e4e66"/>
<rect x="157" y="571" width="1" height="3" fill="#5e4e66"/>
<rect x="154" y="571" width="4" height="1" fill="#5e4e66"/>
<rect x="157" y="574" width="2" height="1" fill="#5e4e66"/>
<rect x="160" y="574" width="2" height="7" fill="#866c9c" fill-opacity="0.6"/>
<rect x="159" y="574" width="1" height="8" fill="#5e4e66"/>
<rect x="162" y="574" width="1" height="8" fill="#5e4e66"/>
<rect x="159" y="581" width="4" height="1" fill="#5e4e66"/>
<rect x="163" y="574" width="2" height="12" fill="#866c9c" fill-opacity="0.6"/>
<rect x="162" y="574" width="1" height="13" fill="#5e4e66"/>
<rect x="165" y="574" width="1" height="13" fill="#5e4e66"/>
<rect x="162" y="586" width="4" height="1" fill="#5e4e66"/>
<rect x="166" y="574" width="2" height="12" fill="#866c9c" fill-opacity="0.6"/>
<rect x="165" y="574" width="1" height="13" fill="#5e4e66"/>
<rect x="168" y="574" width="1" height="13" fill="#5e4e66"/>
<rect x="165" y="586" width="4" height="1" fill="#5e4e66"/>
<rect x="169" y="574" width="2" height="12" fill="#866c9c" fill-opacity="0.6"/>
<rect x="168" y="574" width="1" height="13" fill="#5e4e66"/>
<rect x="171" y="574" width="1" height="13" fill="#5e4e66"/>
<rect x="168" y="586" width="4" height="1" fill="#5e4e66"/>
<rect x="172" y="574" width="2" height="11" fill="#866c9c" fill-opacity="0.6"/>
<rect x="171" y="574" width="1" height="12" fill="#5e4e66"/>
<rect x="174" y="574" width="1" height="12" fill="#5e4e66"/>
<rect x="171" y="585" width="4" height="1" fill="#5e4e66"/>
<rect x="175" y="574" width="1" height="9" fill="#866c9c" fill-opacity="0.6"/>
<rect x="174" y="574" width="1" height="10" fill="#5e4e66"/>
<rect x="176" y="574" width="1" height="10" fill="#5e4e66"/>
<rect x="174" y="583" width="3" height="1" fill="#5e4e66"/>
<rect x="177" y="574" width="2" height="7" fill="#866c9c" fill-opacity="0.6"/>
<rect x="176" y="574" width="1" height="8" fill="#5e4e66"/>
<rect x="179" y="574" width="1" height="8" fill="#5e4e66"/>
<rect x="176" y="581" width="4" height="1" fill="#5e4e66"/>
<rect x="179" y="574" width="3" height="1" fill="#5e4e66"/>
<rect x="183" y="571" width="2" height="3" fill="#866c9c" fill-opacity="0.6"/>
<rect x="182" y="570" width="1" height="4" fill="#5e4e66"/>
<rect x="185" y="570" width="1" height="4" fill="#5e4e66"/>
<rect x="182" y="570" width="4" height="1" fill="#5e4e66"/>
<rect x="186" y="569" width="2" height="5" fill="#866c9c" fill-opacity="0.6"/>
<rect x="185" y="568" width="1" height="6" fill="#5e4e66"/>
<rect x="188" y="568" width="1" height="6" fill="#5e4e66"/>
<rect x="185" y="568" width="4" height="1" fill="#5e4e66"/>
<rect x="189" y="566" width="2" height="8" fill="#866c9c" fill-opacity="0.6"/>
<rect x="188" y="565" width="1" height="9" fill="#5e4e66"/>
<rect x="191" y="565" width="1" height="9" fill="#5e4e66"/>
<rect x="188" y="565" width="4" height="1" fill="#5e4e66"/>
<rect x="192" y="564" width="1" height="10" fill="#866c9c" fill-opacity="0.6"/>
<rect x="191" y="563" width="1" height="11" fill="#5e4e66"/>
<rect x="193" y="563" width="1" height="11" fill="#5e4e66"/>
<rect x="191" y="563" width="3" height="1" fill="#5e4e66"/>
<rect x="194" y="565" width="2" height="9" fill="#866c9c" fill-opacity="0.6"/>
<rect x="193" y="564" width="1" height="10" fill="#5e4e66"/>
<rect x="196" y="564" width="1" height="10" fill="#5e4e66"/>
<rect x="193" y="564" width="4" height="1" fill="#5e4e66"/>
<rect x="197" y="566" width="2" height="8" fill="#866c9c" fill-opacity="0.6"/>
<rect x="196" y="565" width="1" height="9" fill="#5e4e66"/>
<rect x="199" y="565" width="1" height="9" fill="#5e4e66"/>
<rect x="196" y="565" width="4" height="1" fill="#5e4e66"/>
<rect x="200" y="555" width="2" height="19" fill="#866c9c" fill-opacity="0.6"/>
<rect x="199" y="554" width="1" height="20" fill="#5e4e66"/>
<rect x="202" y="554" width="1" height="20" fill="#5e4e66"/>
<rect x="199" y="554" width="4" height="1" fill="#5e4e66"/>
<rect x="203" y="555" width="2" height="19" fill="#866c9c" fill-opacity="0.6"/>
<rect x="202" y="554" width="1" height="20" fill="#5e4e66"/>
<rect x="205" y="554" width="1" height="20" fill="#5e4e66"/>
<rect x="202" y="554" width="4" height="1" fill="#5e4e66"/>
<rect x="206" y="557" width="2" height="17" fill="#866c9c" fill-opacity="0.6"/>
<rect x="205" y="556" width="1" height="18" fill="#5e4e66"/>
<rect x="208" y="556" width="1" height="18" fill="#5e4e66"/>
<rect x="205" y="556" width="4" height="1" fill="#5e4e66"/>
<rect x="209" y="555" width="1" height="19" fill="#866c9c" fill-opacity="0.6"/>
<rect x="208" y="554" width="1" height="20" fill="#5e4e66"/>
<rect x="210" y="554" width="1" height="20" fill="#5e4e66"/>
<rect x="208" y="554" width="3" height="1" fill="#5e4e66"/>
<rect x="211" y="561" width="2" height="13" fill="#866c9c" fill-opacity="0.6"/>
<rect x="210" y="560" width="1" height="14" fill="#5e4e66"/>
<rect x="213" y="560" width="1" height="14" fill="#5e4e66"/>
<rect x="210" y="560" width="4" height="1" fill="#5e4e66"/>
<rect x="214" y="567" width="2" height="7" fill="#866c9c" fill-opacity="0.6"/>
<rect x="213" y="566" width="1" height="8" fill="#5e4e66"/>
<rect x="216" y="566" width="1" height="8" fill="#5e4e66"/>
<rect x="213" y="566" width="4" height="1" fill="#5e4e66"/>
<rect x="217" y="568" width="2" height="6" fill="#866c9c" fill-opacity="0.6"/>
<rect x="216" y="567" width="1" height="7" fill="#5e4e66"/>
<rect x="219" y="567" width="1" height="7" fill="#5e4e66"/>
<rect x="216" y="567" width="4" height="1" fill="#5e4e66"/>
<rect x="220" y="570" width="2" height="4" fill="#866c9c" fill-opacity="0.6"/>
<rect x="219" y="569" width="1" height="5" fill="#5e4e66"/>
<rect x="222" y="569" width="1" height="5" fill="#5e4e66"/>
<rect x="219" y="569" width="4" height="1" fill="#5e4e66"/>
<rect x="223" y="573" width="2" height="1" fill="#866c9c" fill-opacity="0.6"/>
<rect x="222" y="572" width="1" height="2" fill="#5e4e66"/>
<rect x="225" y="572" width="1" height="2" fill="#5e4e66"/>
<rect x="222" y="572" width="4" height="1" fill="#5e4e66"/>
<rect x="226" y="571" width="1" height="3" fill="#866c9c" fill-opacity="0.6"/>
<rect x="225" y="570" width="1" height="4" fill="#5e4e66"/>
<rect x="227" y="570" width="1" height="4" fill="#5e4e66"/>
<rect x="225" y="570" width="3" height="1" fill="#5e4e66"/>
<rect x="228" y="573" width="2" height="1" fill="#866c9c" fill-opacity="0.6"/>
<rect x="227" y="572" width="1" height="2" fill="#5e4e66"/>
<rect x="230" y="572" width="1" height="2" fill="#5e4e66"/>
<rect x="227" y="572" width="4" height="1" fill="#5e4e66"/>
<rect x="231" y="573" width="2" height="1" fill="#866c9c" fill-opacity="0.6"/>
<rect x="230" y="572" width="1" height="2" fill="#5e4e66"/>
<rect x="233" y="572" width="1" height="2" fill="#5e4e66"/>
<rect x="230" y="572" width="4" height="1" fill="#5e4e66"/>
<rect x="234" y="572" width="2" height="2" fill="#866c9c" fill-opacity="0.6"/>
<rect x="233" y="571" width="1" height="3" fill="#5e4e66"/>
<rect x="236" y="571" width="1" height="3" fill="#5e4e66"/>
<rect x="233" y="571" width="4" height="1" fill="#5e4e66"/>
<rect x="237" y="570" width="2" height="4" fill="#866c9c" fill-opacity="0.6"/>
<rect x="236" y="569" width="1" height="5" fill="#5e4e66"/>
<rect x="239" y="569" width="1" height="5" fill="#5e4e66"/>
<rect x="236" y="569" width="4" height="1" fill="#5e4e66"/>
<rect x="240" y="570" width="2" height="4" fill="#866c9c" fill-opacity="0.6"/>
<rect x="239" y="569" width="1" height="5" fill="#5e4e66"/>
<rect x="242" y="569" width="1" height="5" fill="#5e4e66"/>
<rect x="239" y="569" width="4" height="1" fill="#5e4e66"/>
<rect x="242" y="574" width="2" height="1" fill="#5e4e66"/>
<rect x="245" y="574" width="2" height="5" fill="#866c9c" fill-opacity="0.6"/>
<rect x="244" y="574" width="1" height="6" fill="#5e4e66"/>
<rect x="247" y="574" width="1" height="6" fill="#5e4e66"/>
<rect x="244" y="579" width="4" height="1" fill="#5e4e66"/>
<rect x="248" y="574" width="2" height="7" fill="#866c9c" fill-opacity="0.6"/>
<rect x="247" y="574" width="1" height="8" fill="#5e4e66"/>
<rect x="250" y="574" width="1" height="8" fill="#5e4e66"/>
<rect x="247" y="581" width="4" height="1" fill="#5e4e66"/>
<rect x="251" y="574" width="2" height="11" fill="#866c9c" fill-opacity="0.6"/>
<rect x="250" y="574" width="1" height="12" fill="#5e4e66"/>
<rect x="253" y="574" width="1" height="12" fill="#5e4e66"/>
<rect x="250" y="585" width="4" height="1" fill="#5e4e66"/>
<rect x="254" y="574" width="2" height="18" fill="#866c9c" fill-opacity="0.6"/>
<rect x="253" y="574" width="1" height="19" fill="#5e4e66"/>
<rect x="256" y="574" width="1" height="19" fill="#5e4e66"/>
<rect x="253" y="592" width="4" height="1" fill="#5e4e66"/>
<rect x="257" y="574" width="2" height="22" fill="#866c9c" fill-opacity="0.6"/>
<rect x="256" y="574" width="1" height="23" fill="#5e4e66"/>
<rect x="259" y="574" width="1" height="23" fill="#5e4e66"/>
<rect x="256" y="596" width="4" height="1" fill="#5e4e66"/>
<rect x="260" y="574" width="1" height="22" fill="#866c9c" fill-opacity="0.6"/>
<rect x="259" y="574" width="1" height="23" fill="#5e4e66"/>
<rect x="261" y="574" width="1" height="23" fill="#5e4e66"/>
<rect x="259" y="596" width="3" height="1" fill="#5e4e66"/>
<rect x="262" y="574" width="2" height="24" fill="#866c9c" fill-opacity="0.6"/>
<rect x="261" y="574" width="1" height="25" fill="#5e4e66"/>
<rect x="264" y="574" width="1" height="25" fill="#5e4e66"/>
<rect x="261" y="598" width="4" height="1" fill="#5e4e66"/>
<rect x="265" y="574" width="2" height="24" fill="#866c9c" fill-opacity="0.6"/>
<rect x="264" y="574" width="1" height="25" fill="#5e4e66"/>
<rect x="267" y="574" width="1" height="25" fill="#5e4e66"/>
<rect x="264" y="598" width="4" height="1" fill="#5e4e66"/>
<rect x="268" y="574" width="2" height="23" fill="#866c9c" fill-opacity="0.6"/>
<rect x="267" y="574" width="1" height="24" fill="#5e4e66"/>
<rect x="270" y="574" width="1" height="24" fill="#5e4e66"/>
<rect x="267" y="597" width="4" height="1" fill="#5e4e66"/>
<rect x="271" y="574" width="2" height="22" fill="#866c9c" fill-opacity="0.6"/>
<rect x="270" y="574" width="1" height="23" fill="#5e4e66"/>
<rect x="273" y="574" width="1" height="23" fill="#5e4e66"/>
<rect x="270" y="596" width="4" height="1" fill="#5e4e66"/>
<rect x="274" y="574" width="2" height="21" fill="#866c9c" fill-opacity="0.6"/>
<rect x="273" y="574" width="1" height="22" fill="#5e4e66"/>
<rect x="276" y="574" width="1" height="22" fill="#5e4e66"/>
<rect x="273" y="595" width="4" height="1" fill="#5e4e66"/>
<rect x="277" y="574" width="1" height="21" fill="#866c9c" fill-opacity="0.6"/>
<rect x="276" y="574" width="1" height="22" fill="#5e4e66"/>
<rect x="278" y="574" width="1" height="22" fill="#5e4e66"/>
<rect x="276" y="595" width="3" height="1" fill="#5e4e66"/>
<rect x="279" y="574" width="2" height="21" fill="#866c9c" fill-opacity="0.6"/>
<rect x="278" y="574" width="1" height="22" fill="#5e4e66"/>
<rect x="281" y="574" width="1" height="22" fill="#5e4e66"/>
<rect x="278" y="595" width="4" height="1" fill="#5e4e66"/>
<rect x="282" y="574" width="2" height="21" fill="#866c9c" fill-opacity="0.6"/>
<rect x="281" y="574" width="1" height="22" fill="#5e4e66"/>
<rect x="284" y="574" width="1" height="22" fill="#5e4e66"/>
<rect x="281" y="595" width="4" height="1" fill="#5e4e66"/>
<rect x="285" y="574" width="2" height="21" fill="#866c9c" fill-opacity="0.6"/>
<rect x="284" y="574" width="1" height="22" fill="#5e4e66"/>
<rect x="287" y="574" width="1" height="22" fill="#5e4e66"/>
<rect x="284" y="595" width="4" height="1" fill="#5e4e66"/>
<rect x="288" y="574" width="2" height="13" fill="#866c9c" fill-opacity="0.6"/>
<rect x="287" y="574" width="1" height="14" fill="#5e4e66"/>
<rect x="290" y="574" width="1" height="14" fill="#5e4e66"/>
<rect x="287" y="587" width="4" height="1" fill="#5e4e66"/>
<rect x="291" y="574" width="2" height="10" fill="#866c9c" fill-opacity="0.6"/>
<rect x="290" y="574" width="1" height="11" fill="#5e4e66"/>
<rect x="293" y="574" width="1" height="11" fill="#5e4e66"/>
<rect x="290" y="584" width="4" height="1" fill="#5e4e66"/>
<rect x="294" y="574" width="1" height="8" fill="#866c9c" fill-opacity="0.6"/>
<rect x="293" y="574" width="1" height="9" fill="#5e4e66"/>
<rect x="295" y="574" width="1" height="9" fill="#5e4e66"/>
<rect x="293" y="582" width="3" height="1" fill="#5e4e66"/>
<rect x="296" y="574" width="2" height="6" fill="#866c9c" fill-opacity="0.6"/>
<rect x="295" y="574" width="1" height="7" fill="#5e4e66"/>
<rect x="298" y="574" width="1" height="7" fill="#5e4e66"/>
<rect x="295" y="580" width="4" height="1" fill="#5e4e66"/>
<rect x="299" y="574" width="2" height="2" fill="#866c9c" fill-opacity="0.6"/>
<rect x="298" y="574" width="1" height="3" fill="#5e4e66"/>
<rect x="301" y="574" width="1" height="3" fill="#5e4e66"/>
<rect x="298" y="576" width="4" height="1" fill="#5e4e66"/>
<rect x="301" y="574" width="3" height="1" fill="#5e4e66"/>
<rect x="305" y="574" width="2" height="2" fill="#866c9c" fill-opacity="0.6"/>
<rect x="304" y="574" width="1" height="3" fill="#5e4e66"/>
<rect x="307" y="574" width="1" height="3" fill="#5e4e66"/>
<rect x="304" y="576" width="4" height="1" fill="#5e4e66"/>
<rect x="308" y="574" width="2" height="5" fill="#866c9c" fill-opacity="0.6"/>
<rect x="307" y="574" width="1" height="6" fill="#5e4e66"/>
<rect x="310" y="574" width="1" height="6" fill="#5e4e66"/>
<rect x="307" y="579" width="4" height="1" fill="#5e4e66"/>
<rect x="311" y="574" width="2" height="5" fill="#866c9c" fill-opacity="0.6"/>
<rect x="310" y="574" width="1" height="6" fill="#5e4e66"/>
<rect x="313" y="574" width="1" height="6" fill="#5e4e66"/>
<rect x="310" y="579" width="4" height="1" fill="#5e4e66"/>
<rect x="314" y="574" width="1" height="8" fill="#866c9c" fill-opacity="0.6"/>
<rect x="313" y="574" width="1" height="9" fill="#5e4e66"/>
<rect x="315" y="574" width="1" height="9" fill="#5e4e66"/>
<rect x="313" y="582" width="3" height="1" fill="#5e4e66"/>
<rect x="316" y="574" width="2" height="8" fill="#866c9c" fill-opacity="0.6"/>
<rect x="315" y="574" width="1" height="9" fill="#5e4e66"/>
<rect x="318" y="574" width="1" height="9" fill="#5e4e66"/>
<rect x="315" y="582" width="4" height="1" fill="#5e4e66"/>
<rect x="319" y="574" width="2" height="5" fill="#866c9c" fill-opacity="0.6"/>
<rect x="318" y="574" width="1" height="6" fill="#5e4e66"/>
<rect x="321" y="574" width="1" height="6" fill="#5e4e66"/>
<rect x="318" y="579" width="4" height="1" fill="#5e4e66"/>
<rect x="322" y="574" width="2" height="3" fill="#866c9c" fill-opacity="0.6"/>
<rect x="321" y="574" width="1" height="4" fill="#5e4e66"/>
<rect x="324" y="574" width="1" height="4" fill="#5e4e66"/>
<rect x="321" y="577" width="4" height="1" fill="#5e4e66"/>
<rect x="325" y="574" width="2" height="3" fill="#866c9c" fill-opacity="0.6"/>
<rect x="324" y="574" width="1" height="4" fill="#5e4e66"/>
<rect x="327" y="574" width="1" height="4" fill="#5e4e66"/>
<rect x="324" y="577" width="4" height="1" fill="#5e4e66"/>
<rect x="328" y="574" width="2" height="2" fill="#866c9c" fill-opacity="0.6"/>
<rect x="327" y="574" width="1" height="3" fill="#5e4e66"/>
<rect x="330" y="574" width="1" height="3" fill="#5e4e66"/>
<rect x="327" y="576" width="4" height="1" fill="#5e4e66"/>
<rect x="331" y="572" width="1" height="2" fill="#866c9c" fill-opacity="0.6"/>
<rect x="330" y="571" width="1" height="3" fill="#5e4e66"/>
<rect x="332" y="571" width="1" height="3" fill="#5e4e66"/>
<rect x="330" y="571" width="3" height="1" fill="#5e4e66"/>
<rect x="333" y="571" width="2" height="3" fill="#866c9c" fill-opacity="0.6"/>
<rect x="332" y="570" width="1" height="4" fill="#5e4e66"/>
<rect x="335" y="570" width="1" height="4" fill="#5e4e66"/>
<rect x="332" y="570" width="4" height="1" fill="#5e4e66"/>
<rect x="336" y="574" width="2" height="0" fill="#866c9c" fill-opacity="0.6"/>
<rect x="335" y="573" width="1" height="1" fill="#5e4e66"/>
<rect x="338" y="573" width="1" height="1" fill="#5e4e66"/>
<rect x="335" y="573" width="4" height="1" fill="#5e4e66"/>
<rect x="339" y="571" width="2" height="3" fill="#866c9c" fill-opacity="0.6"/>
<rect x="338" y="570" width="1" height="4" fill="#5e4e66"/>
<rect x="341" y="570" width="1" height="4" fill="#5e4e66"/>
<rect x="338" y="570" width="4" height="1" fill="#5e4e66"/>
<rect x="342" y="573" width="2" height="1" fill="#866c9c" fill-opacity="0.6"/>
<rect x="341" y="572" width="1" height="2" fill="#5e4e66"/>
<rect x="344" y="572" width="1" height="2" fill="#5e4e66"/>
<rect x="341" y="572" width="4" height="1" fill="#5e4e66"/>
<rect x="345" y="573" width="2" height="1" fill="#866c9c" fill-opacity="0.6"/>
<rect x="344" y="572" width="1" height="2" fill="#5e4e66"/>
<rect x="347" y="572" width="1" height="2" fill="#5e4e66"/>
<rect x="344" y="572" width="4" height="1" fill="#5e4e66"/>
<rect x="348" y="570" width="1" height="4" fill="#866c9c" fill-opacity="0.6"/>
<rect x="347" y="569" width="1" height="5" fill="#5e4e66"/>
<rect x="349" y="569" width="1" height="5" fill="#5e4e66"/>
<rect x="347" y="569" width="3" height="1" fill="#5e4e66"/>
<rect x="350" y="571" width="2" height="3" fill="#866c9c" fill-opacity="0.6"/>
<rect x="349" y="570" width="1" height="4" fill="#5e4e66"/>
<rect x="352" y="570" width="1" height="4" fill="#5e4e66"/>
<rect x="349" y="570" width="4" height="1" fill="#5e4e66"/>
<rect x="353" y="574" width="2" height="1" fill="#866c9c" fill-opacity="0.6"/>
<rect x="352" y="574" width="1" height="2" fill="#5e4e66"/>
<rect x="355" y="574" width="1" height="2" fill="#5e4e66"/>
<rect x="352" y="575" width="4" height="1" fill="#5e4e66"/>
<rect x="356" y="574" width="2" height="3" fill="#866c9c" fill-opacity="0.6"/>
<rect x="355" y="574" width="1" height="4" fill="#5e4e66"/>
<rect x="358" y="574" width="1" height="4" fill="#5e4e66"/>
<rect x="355" y="577" width="4" height="1" fill="#5e4e66"/>
<rect x="359" y="574" width="2" height="2" fill="#866c9c" fill-opacity="0.6"/>
<rect x="358" y="574" width="1" height="3" fill="#5e4e66"/>
<rect x="361" y="574" width="1" height="3" fill="#5e4e66"/>
<rect x="358" y="576" width="4" height="1" fill="#5e4e66"/>
<rect x="362" y="571" width="2" height="3" fill="#866c9c" fill-opacity="0.6"/>
<rect x="361" y="570" width="1" height="4" fill="#5e4e66"/>
<rect x="364" y="570" width="1" height="4" fill="#5e4e66"/>
<rect x="361" y="570" width="4" height="1" fill="#5e4e66"/>
<rect x="365" y="568" width="1" height="6" fill="#866c9c" fill-opacity="0.6"/>
<rect x="364" y="567" width="1" height="7" fill="#5e4e66"/>
<rect x="366" y="567" width="1" height="7" fill="#5e4e66"/>
<rect x="364" y="567" width="3" height="1" fill="#5e4e66"/>
<rect x="367" y="568" width="2" height="6" fill="#866c9c" fill-opacity="0.6"/>
<rect x="366" y="567" width="1" height="7" fill="#5e4e66"/>
<rect x="369" y="567" width="1" height="7" fill="#5e4e66"/>
<rect x="366" y="567" width="4" height="1" fill="#5e4e66"/>
<rect x="370" y="569" width="2" height="5" fill="#866c9c" fill-opacity="0.6"/>
<rect x="369" y="568" width="1" height="6" fill="#5e4e66"/>
<rect x="372" y="568" width="1" height="6" fill="#5e4e66"/>
<rect x="369" y="568" width="4" height="1" fill="#5e4e66"/>
<rect x="373" y="569" width="2" height="5" fill="#866c9c" fill-opacity="0.6"/>
<rect x="372" y="568" width="1" height="6" fill="#5e4e66"/>
<rect x="375" y="568" width="1" height="6" fill="#5e4e66"/>
<rect x="372" y="568" width="4" height="1" fill="#5e4e66"/>
<rect x="376" y="573" width="2" height="1" fill="#866c9c" fill-opacity="0.6"/>
<rect x="375" y="572" width="1" height="2" fill="#5e4e66"/>
<rect x="378" y="572" width="1" height="2" fill="#5e4e66"/>
<rect x="375" y="572" width="4" height="1" fill="#5e4e66"/>
<rect x="378" y="574" width="3" height="1" fill="#5e4e66"/>
<rect x="381" y="574" width="2" height="1" fill="#5e4e66"/>
<rect x="383" y="574" width="3" height="1" fill="#5e4e66"/>
<rect x="387" y="574" width="2" height="1" fill="#866c9c" fill-opacity="0.6"/>
<rect x="386" y="574" width="1" height="2" fill="#5e4e66"/>
<rect x="389" y="574" width="1" height="2" fill="#5e4e66"/>
<rect x="386" y="575" width="4" height="1" fill="#5e4e66"/>
<rect x="389" y="574" width="3" height="1" fill="#5e4e66"/>
<rect x="393" y="574" width="2" height="1" fill="#866c9c" fill-opacity="0.6"/>
<rect x="392" y="574" width="1" height="2" fill="#5e4e66"/>
<rect x="395" y="574" width="1" height="2" fill="#5e4e66"/>
<rect x="392" y="575" width="4" height="1" fill="#5e4e66"/>
<rect x="395" y="574" width="3" height="1" fill="#5e4e66"/>
<rect x="399" y="573" width="1" height="1" fill="#866c9c" fill-opacity="0.6"/>
<rect x="398" y="572" width="1" height="2" fill="#5e4e66"/>
<rect x="400" y="572" width="1" height="2" fill="#5e4e66"/>
<rect x="398" y="572" width="3" height="1" fill="#5e4e66"/>
<rect x="401" y="571" width="2" height="3" fill="#866c9c" fill-opacity="0.6"/>
<rect x="400" y="570" width="1" height="4" fill="#5e4e66"/>
<rect x="403" y="570" width="1" height="4" fill="#5e4e66"/>
<rect x="400" y="570" width="4" height="1" fill="#5e4e66"/>
<rect x="404" y="569" width="2" height="5" fill="#866c9c" fill-opacity="0.6"/>
<rect x="403" y="568" width="1" height="6" fill="#5e4e66"/>
<rect x="406" y="568" width="1" height="6" fill="#5e4e66"/>
<rect x="403" y="568" width="4" height="1" fill="#5e4e66"/>
<rect x="407" y="566" width="2" height="8" fill="#866c9c" fill-opacity="0.6"/>
<rect x="406" y="565" width="1" height="9" fill="#5e4e66"/>
<rect x="409" y="565" width="1" height="9" fill="#5e4e66"/>
<rect x="406" y="565" width="4" height="1" fill="#5e4e66"/>
<rect x="410" y="563" width="2" height="11" fill="#866c9c" fill-opacity="0.6"/>
<rect x="409" y="562" width="1" height="12" fill="#5e4e66"/>
<rect x="412" y="562" width="1" height="12" fill="#5e4e66"/>
<rect x="409" y="562" width="4" height="1" fill="#5e4e66"/>
<rect x="413" y="562" width="2" height="12" fill="#866c9c" fill-opacity="0.6"/>
<rect x="412" y="561" width="1" height="13" fill="#5e4e66"/>
<rect x="415" y="561" width="1" height="13" fill="#5e4e66"/>
<rect x="412" y="561" width="4" height="1" fill="#5e4e66"/>
<rect x="416" y="564" width="1" height="10" fill="#866c9c" fill-opacity="0.6"/>
<rect x="415" y="563" width="1" height="11" fill="#5e4e66"/>
<rect x="417" y="563" width="1" height="11" fill="#5e4e66"/>
<rect x="415" y="563" width="3" height="1" fill="#5e4e66"/>
<rect x="418" y="566" width="2" height="8" fill="#866c9c" fill-opacity="0.6"/>
<rect x="417" y="565" width="1" height="9" fill="#5e4e66"/>
<rect x="420" y="565" width="1" height="9" fill="#5e4e66"/>
<rect x="417" y="565" width="4" height="1" fill="#5e4e66"/>
<rect x="421" y="563" width="2" height="11" fill="#866c9c" fill-opacity="0.6"/>
<rect x="420" y="562" width="1" height="12" fill="#5e4e66"/>
<rect x="423" y="562" width="1" height="12" fill="#5e4e66"/>
<rect x="420" y="562" width="4" height="1" fill="#5e4e66"/>
<rect x="424" y="561" width="2" height="13" fill="#866c9c" fill-opacity="0.6"/>
<rect x="423" y="560" width="1" height="14" fill="#5e4e66"/>
<rect x="426" y="560" width="1" height="14" fill="#5e4e66"/>
<rect x="423" y="560" width="4" height="1" fill="#5e4e66"/>
<rect x="427" y="561" width="2" height="13" fill="#866c9c" fill-opacity="0.6"/>
<rect x="426" y="560" width="1" height="14" fill="#5e4e66"/>
<rect x="429" y="560" width="1" height="14" fill="#5e4e66"/>
<rect x="426" y="560" width="4" height="1" fill="#5e4e66"/>
<rect x="430" y="562" width="2" height="12" fill="#866c9c" fill-opacity="0.6"/>
<rect x="429" y="561" width="1" height="13" fill="#5e4e66"/>
<rect x="432" y="561" width="1" height="13" fill="#5e4e66"/>
<rect x="429" y="561" width="4" height="1" fill="#5e4e66"/>
<rect x="433" y="563" width="1" height="11" fill="#866c9c" fill-opacity="0.6"/>
<rect x="432" y="562" width="1" height="12" fill="#5e4e66"/>
<rect x="434" y="562" width="1" height="12" fill="#5e4e66"/>
<rect x="432" y="562" width="3" height="1" fill="#5e4e66"/>
<rect x="435" y="567" width="2" height="7" fill="#866c9c" fill-opacity="0.6"/>
<rect x="434" y="566" width="1" height="8" fill="#5e4e66"/>
<rect x="437" y="566" width="1" height="8" fill="#5e4e66"/>
<rect x="434" y="566" width="4" height="1" fill="#5e4e66"/>
<rect x="438" y="569" width="2" height="5" fill="#866c9c" fill-opacity="0.6"/>
<rect x="437" y="568" width="1" height="6" fill="#5e4e66"/>
<rect x="440" y="568" width="1" height="6" fill="#5e4e66"/>
<rect x="437" y="568" width="4" height="1" fill="#5e4e66"/>
<rect x="441" y="570" width="2" height="4" fill="#866c9c" fill-opacity="0.6"/>
<rect x="440" y="569" width="1" height="5" fill="#5e4e66"/>
<rect x="443" y="569" width="1" height="5" fill="#5e4e66"/>
<rect x="440" y="569" width="4" height="1" fill="#5e4e66"/>
<rect x="444" y="571" width="2" height="3" fill="#866c9c" fill-opacity="0.6"/>
<rect x="443" y="570" width="1" height="4" fill="#5e4e66"/>
<rect x="446" y="570" width="1" height="4" fill="#5e4e66"/>
<rect x="443" y="570" width="4" height="1" fill="#5e4e66"/>
<rect x="447" y="574" width="2" height="1" fill="#866c9c" fill-opacity="0.6"/>
<rect x="446" y="574" width="1" height="2" fill="#5e4e66"/>
<rect x="449" y="574" width="1" height="2" fill="#5e4e66"/>
<rect x="446" y="575" width="4" height="1" fill="#5e4e66"/>
<rect x="450" y="574" width="1" height="5" fill="#866c9c" fill-opacity="0.6"/>
<rect x="449" y="574" width="1" height="6" fill="#5e4e66"/>
<rect x="451" y="574" width="1" height="6" fill="#5e4e66"/>
<rect x="449" y="579" width="3" height="1" fill="#5e4e66"/>
<rect x="452" y="574" width="2" height="7" fill="#866c9c" fill-opacity="0.6"/>
<rect x="451" y="574" width="1" height="8" fill="#5e4e66"/>
<rect x="454" y="574" width="1" height="8" fill="#5e4e66"/>
<rect x="451" y="581" width="4" height="1" fill="#5e4e66"/>
<rect x="455" y="574" width="2" height="9" fill="#866c9c" fill-opacity="0.6"/>
<rect x="454" y="574" width="1" height="10" fill="#5e4e66"/>
<rect x="457" y="574" width="1" height="10" fill="#5e4e66"/>
<rect x="454" y="583" width="4" height="1" fill="#5e4e66"/>
<rect x="458" y="574" width="2" height="10" fill="#866c9c" fill-opacity="0.6"/>
<rect x="457" y="574" width="1" height="11" fill="#5e4e66"/>
<rect x="460" y="574" width="1" height="11" fill="#5e4e66"/>
<rect x="457" y="584" width="4" height="1" fill="#5e4e66"/>
<rect x="461" y="574" width="2" height="12" fill="#866c9c" fill-opacity="0.6"/>
<rect x="460" y="574" width="1" height="13" fill="#5e4e66"/>
<rect x="463" y="574" width="1" height="13" fill="#5e4e66"/>
<rect x="460" y="586" width="4" height="1" fill="#5e4e66"/>
<rect x="464" y="574" width="2" height="13" fill="#866c9c" fill-opacity="0.6"/>
<rect x="463" y="574" width="1" height="14" fill="#5e4e66"/>
<rect x="466" y="574" width="1" height="14" fill="#5e4e66"/>
<rect x="463" y="587" width="4" height="1" fill="#5e4e66"/>
<rect x="467" y="574" width="1" height="11" fill="#866c9c" fill-opacity="0.6"/>
<rect x="466" y="574" width="1" height="12" fill="#5e4e66"/>
<rect x="468" y="574" width="1" height="12" fill="#5e4e66"/>
<rect x="466" y="585" width="3" height="1" fill="#5e4e66"/>
<rect x="469" y="574" width="2" height="10" fill="#866c9c" fill-opacity="0.6"/>
<rect x="468" y="574" width="1" height="11" fill="#5e4e66"/>
<rect x="471" y="574" width="1" height="11" fill="#5e4e66"/>
<rect x="468" y="584" width="4" height="1" fill="#5e4e66"/>
<rect x="472" y="574" width="2" height="9" fill="#866c9c" fill-opacity="0.6"/>
<rect x="471" y="574" width="1" height="10" fill="#5e4e66"/>
<rect x="474" y="574" width="1" height="10" fill="#5e4e66"/>
<rect x="471" y="583" width="4" height="1" fill="#5e4e66"/>
<rect x="475" y="574" width="2" height="7" fill="#866c9c" fill-opacity="0.6"/>
<rect x="474" y="574" width="1" height="8" fill="#5e4e66"/>
<rect x="477" y="574" width="1" height="8" fill="#5e4e66"/>
<rect x="474" y="581" width="4" height="1" fill="#5e4e66"/>
<rect x="478" y="574" width="2" height="3" fill="#866c9c" fill-opacity="0.6"/>
<rect x="477" y="574" width="1" height="4" fill="#5e4e66"/>
<rect x="480" y="574" width="1" height="4" fill="#5e4e66"/>
<rect x="477" y="577" width="4" height="1" fill="#5e4e66"/>
<rect x="481" y="574" width="2" height="2" fill="#866c9c" fill-opacity="0.6"/>
<rect x="480" y="574" width="1" height="3" fill="#5e4e66"/>
<rect x="483" y="574" width="1" height="3" fill="#5e4e66"/>
<rect x="480" y="576" width="4" height="1" fill="#5e4e66"/>
<rect x="484" y="574" width="1" height="1" fill="#866c9c" fill-opacity="0.6"/>
<rect x="483" y="574" width="1" height="2" fill="#5e4e66"/>
<rect x="485" y="574" width="1" height="2" fill="#5e4e66"/>
<rect x="483" y="575" width="3" height="1" fill="#5e4e66"/>
<rect x="485" y="574" width="3" height="1" fill="#5e4e66"/>
<rect x="489" y="573" width="2" height="1" fill="#866c9c" fill-opacity="0.6"/>
<rect x="488" y="572" width="1" height="2" fill="#5e4e66"/>
<rect x="491" y="572" width="1" height="2" fill="#5e4e66"/>
<rect x="488" y="572" width="4" height="1" fill="#5e4e66"/>
<rect x="492" y="573" width="2" height="1" fill="#866c9c" fill-opacity="0.6"/>
<rect x="491" y="572" width="1" height="2" fill="#5e4e66"/>
<rect x="494" y="572" width="1" height="2" fill="#5e4e66"/>
<rect x="491" y="572" width="4" height="1" fill="#5e4e66"/>
<rect x="495" y="571" width="2" height="3" fill="#866c9c" fill-opacity="0.6"/>
<rect x="494" y="570" width="1" height="4" fill="#5e4e66"/>
<rect x="497" y="570" width="1" height="4" fill="#5e4e66"/>
<rect x="494" y="570" width="4" height="1" fill="#5e4e66"/>
<rect x="498" y="571" width="2" height="3" fill="#866c9c" fill-opacity="0.6"/>
<rect x="497" y="570" width="1" height="4" fill="#5e4e66"/>
<rect x="500" y="570" width="1" height="4" fill="#5e4e66"/>
<rect x="497" y="570" width="4" height="1" fill="#5e4e66"/>
<rect x="501" y="569" width="1" height="5" fill="#866c9c" fill-opacity="0.6"/>
<rect x="500" y="568" width="1" height="6" fill="#5e4e66"/>
<rect x="502" y="568" width="1" height="6" fill="#5e4e66"/>
<rect x="500" y="568" width="3" height="1" fill="#5e4e66"/>
<rect x="503" y="568" width="2" height="6" fill="#866c9c" fill-opacity="0.6"/>
<rect x="502" y="567" width="1" height="7" fill="#5e4e66"/>
<rect x="505" y="567" width="1" height="7" fill="#5e4e66"/>
<rect x="502" y="567" width="4" height="1" fill="#5e4e66"/>
<rect x="506" y="568" width="2" height="6" fill="#866c9c" fill-opacity="0.6"/>
<rect x="505" y="567" width="1" height="7" fill="#5e4e66"/>
<rect x="508" y="567" width="1" height="7" fill="#5e4e66"/>
<rect x="505" y="567" width="4" height="1" fill="#5e4e66"/>
<rect x="509" y="566" width="2" height="8" fill="#866c9c" fill-opacity="0.6"/>
<rect x="508" y="565" width="1" height="9" fill="#5e4e66"/>
<rect x="511" y="565" width="1" height="9" fill="#5e4e66"/>
<rect x="508" y="565" width="4" height="1" fill="#5e4e66"/>
<rect x="512" y="564" width="2" height="10" fill="#866c9c" fill-opacity="0.6"/>
<rect x="511" y="563" width="1" height="11" fill="#5e4e66"/>
<rect x="514" y="563" width="1" height="11" fill="#5e4e66"/>
<rect x="511" y="563" width="4" height="1" fill="#5e4e66"/>
<rect x="515" y="566" width="2" height="8" fill="#866c9c" fill-opacity="0.6"/>
<rect x="514" y="565" width="1" height="9" fill="#5e4e66"/>
<rect x="517" y="565" width="1" height="9" fill="#5e4e66"/>
<rect x="514" y="565" width="4" height="1" fill="#5e4e66"/>
<rect x="518" y="567" width="1" height="7" fill="#866c9c" fill-opacity="0.6"/>
<rect x="517" y="566" width="1" height="8" fill="#5e4e66"/>
<rect x="519" y="566" width="1" height="8" fill="#5e4e66"/>
<rect x="517" y="566" width="3" height="1" fill="#5e4e66"/>
<rect x="520" y="568" width="2" height="6" fill="#866c9c" fill-opacity="0.6"/>
<rect x="519" y="567" width="1" height="7" fill="#5e4e66"/>
<rect x="522" y="567" width="1" height="7" fill="#5e4e66"/>
<rect x="519" y="567" width="4" height="1" fill="#5e4e66"/>
<rect x="523" y="571" width="2" height="3" fill="#866c9c" fill-opacity="0.6"/>
<rect x="522" y="570" width="1" height="4" fill="#5e4e66"/>
<rect x="525" y="570" width="1" height="4" fill="#5e4e66"/>
<rect x="522" y="570" width="4" height="1" fill="#5e4e66"/>
<rect x="526" y="574" width="2" height="0" fill="#866c9c" fill-opacity="0.6"/>
<rect x="525" y="573" width="1" height="1" fill="#5e4e66"/>
<rect x="528" y="573" width="1" height="1" fill="#5e4e66"/>
<rect x="525" y="573" width="4" height="1" fill="#5e4e66"/>
<rect x="528" y="574" width="3" height="1" fill="#5e4e66"/>
<rect x="532" y="574" width="2" height="2" fill="#866c9c" fill-opacity="0.6"/>
<rect x="531" y="574" width="1" height="3" fill="#5e4e66"/>
<rect x="534" y="574" width="1" height="3" fill="#5e4e66"/>
<rect x="531" y="576" width="4" height="1" fill="#5e4e66"/>
<rect x="535" y="574" width="1" height="3" fill="#866c9c" fill-opacity="0.6"/>
<rect x="534" y="574" width="1" height="4" fill="#5e4e66"/>
<rect x="536" y="574" width="1" height="4" fill="#5e4e66"/>
<rect x="534" y="577" width="3" height="1" fill="#5e4e66"/>
<rect x="537" y="574" width="2" height="4" fill="#866c9c" fill-opacity="0.6"/>
<rect x="536" y="574" width="1" height="5" fill="#5e4e66"/>
<rect x="539" y="574" width="1" height="5" fill="#5e4e66"/>
<rect x="536" y="578" width="4" height="1" fill="#5e4e66"/>
<rect x="540" y="574" width="2" height="3" fill="#866c9c" fill-opacity="0.6"/>
<rect x="539" y="574" width="1" height="4" fill="#5e4e66"/>
<rect x="542" y="574" width="1" height="4" fill="#5e4e66"/>
<rect x="539" y="577" width="4" height="1" fill="#5e4e66"/>
<rect x="543" y="574" width="2" height="2" fill="#866c9c" fill-opacity="0.6"/>
<rect x="542" y="574" width="1" height="3" fill="#5e4e66"/>
<rect x="545" y="574" width="1" height="3" fill="#5e4e66"/>
<rect x="542" y="576" width="4" height="1" fill="#5e4e66"/>
<rect x="546" y="574" width="2" height="0" fill="#866c9c" fill-opacity="0.6"/>
<rect x="545" y="573" width="1" height="1" fill="#5e4e66"/>
<rect x="548" y="573" width="1" height="1" fill="#5e4e66"/>
<rect x="545" y="573" width="4" height="1" fill="#5e4e66"/>
<rect x="549" y="573" width="2" height="1" fill="#866c9c" fill-opacity="0.6"/>
<rect x="548" y="572" width="1" height="2" fill="#5e4e66"/>
<rect x="551" y="572" width="1" height="2" fill="#5e4e66"/>
<rect x="548" y="572" width="4" height="1" fill="#5e4e66"/>
<rect x="552" y="574" width="1" height="0" fill="#866c9c" fill-opacity="0.6"/>
<rect x="551" y="573" width="1" height="1" fill="#5e4e66"/>
<rect x="553" y="573" width="1" height="1" fill="#5e4e66"/>
<rect x="551" y="573" width="3" height="1" fill="#5e4e66"/>
<rect x="553" y="574" width="3" height="1" fill="#5e4e66"/>
<rect x="557" y="574" width="2" height="3" fill="#866c9c" fill-opacity="0.6"/>
<rect x="556" y="574" width="1" height="4" fill="#5e4e66"/>
<rect x="559" y="574" width="1" height="4" fill="#5e4e66"/>
<rect x="556" y="577" width="4" height="1" fill="#5e4e66"/>
<rect x="560" y="574" width="2" height="3" fill="#866c9c" fill-opacity="0.6"/>
<rect x="559" y="574" width="1" height="4" fill="#5e4e66"/>
<rect x="562" y="574" width="1" height="4" fill="#5e4e66"/>
<rect x="559" y="577" width="4" height="1" fill="#5e4e66"/>
<rect x="563" y="574" width="2" height="3" fill="#866c9c" fill-opacity="0.6"/>
<rect x="562" y="574" width="1" height="4" fill="#5e4e66"/>
<rect x="565" y="574" width="1" height="4" fill="#5e4e66"/>
<rect x="562" y="577" width="4" height="1" fill="#5e4e66"/>
<rect x="566" y="574" width="2" height="4" fill="#866c9c" fill-opacity="0.6"/>
<rect x="565" y="574" width="1" height="5" fill="#5e4e66"/>
<rect x="568" y="574" width="1" height="5" fill="#5e4e66"/>
<rect x="565" y="578" width="4" height="1" fill="#5e4e66"/>
<rect x="569" y="574" width="1" height="5" fill="#866c9c" fill-opacity="0.6"/>
<rect x="568" y="574" width="1" height="6" fill="#5e4e66"/>
<rect x="570" y="574" width="1" height="6" fill="#5e4e66"/>
<rect x="568" y="579" width="3" height="1" fill="#5e4e66"/>
<rect x="571" y="574" width="2" height="8" fill="#866c9c" fill-opacity="0.6"/>
<rect x="570" y="574" width="1" height="9" fill="#5e4e66"/>
<rect x="573" y="574" width="1" height="9" fill="#5e4e66"/>
<rect x="570" y="582" width="4" height="1" fill="#5e4e66"/>
<rect x="574" y="574" width="2" height="9" fill="#866c9c" fill-opacity="0.6"/>
<rect x="573" y="574" width="1" height="10" fill="#5e4e66"/>
<rect x="576" y="574" width="1" height="10" fill="#5e4e66"/>
<rect x="573" y="583" width="4" height="1" fill="#5e4e66"/>
<rect x="577" y="574" width="2" height="9" fill="#866c9c" fill-opacity="0.6"/>
<rect x="576" y="574" width="1" height="10" fill="#5e4e66"/>
<rect x="579" y="574" width="1" height="10" fill="#5e4e66"/>
<rect x="576" y="583" width="4" height="1" fill="#5e4e66"/>
<rect x="580" y="574" width="2" height="9" fill="#866c9c" fill-opacity="0.6"/>
<rect x="579" y="574" width="1" height="10" fill="#5e4e66"/>
<rect x="582" y="574" width="1" height="10" fill="#5e4e66"/>
<rect x="579" y="583" width="4" height="1" fill="#5e4e66"/>
<rect x="583" y="574" width="2" height="7" fill="#866c9c" fill-opacity="0.6"/>
<rect x="582" y="574" width="1" height="8" fill="#5e4e66"/>
<rect x="585" y="574" width="1" height="8" fill="#5e4e66"/>
<rect x="582" y="581" width="4" height="1" fill="#5e4e66"/>
<rect x="586" y="574" width="2" height="3" fill="#866c9c" fill-opacity="0.6"/>
<rect x="585" y="574" width="1" height="4" fill="#5e4e66"/>
<rect x="588" y="574" width="1" height="4" fill="#5e4e66"/>
<rect x="585" y="577" width="4" height="1" fill="#5e4e66"/>
<rect x="589" y="574" width="1" height="2" fill="#866c9c" fill-opacity="0.6"/>
<rect x="588" y="574" width="1" height="3" fill="#5e4e66"/>
<rect x="590" y="574" width="1" height="3" fill="#5e4e66"/>
<rect x="588" y="576" width="3" height="1" fill="#5e4e66"/>
<rect x="591" y="574" width="2" height="2" fill="#866c9c" fill-opacity="0.6"/>
<rect x="590" y="574" width="1" height="3" fill="#5e4e66"/>
<rect x="593" y="574" width="1" height="3" fill="#5e4e66"/>
<rect x="590" y="576" width="4" height="1" fill="#5e4e66"/>
<rect x="594" y="574" width="2" height="2" fill="#866c9c" fill-opacity="0.6"/>
<rect x="593" y="574" width="1" height="3" fill="#5e4e66"/>
<rect x="596" y="574" width="1" height="3" fill="#5e4e66"/>
<rect x="593" y="576" width="4" height="1" fill="#5e4e66"/>
<rect x="597" y="574" width="2" height="2" fill="#866c9c" fill-opacity="0.6"/>
<rect x="596" y="574" width="1" height="3" fill="#5e4e66"/>
<rect x="599" y="574" width="1" height="3" fill="#5e4e66"/>
<rect x="596" y="576" width="4" height="1" fill="#5e4e66"/>
<rect x="600" y="574" width="2" height="2" fill="#866c9c" fill-opacity="0.6"/>
<rect x="599" y="574" width="1" height="3" fill="#5e4e66"/>
<rect x="602" y="574" width="1" height="3" fill="#5e4e66"/>
<rect x="599" y="576" width="4" height="1" fill="#5e4e66"/>
<rect x="603" y="574" width="2" height="2" fill="#866c9c" fill-opacity="0.6"/>
<rect x="602" y="574" width="1" height="3" fill="#5e4e66"/>
<rect x="605" y="574" width="1" height="3" fill="#5e4e66"/>
<rect x="602" y="576" width="4" height="1" fill="#5e4e66"/>
<rect x="606" y="574" width="1" height="2" fill="#866c9c" fill-opacity="0.6"/>
<rect x="605" y="574" width="1" height="3" fill="#5e4e66"/>
<rect x="607" y="574" width="1" height="3" fill="#5e4e66"/>
<rect x="605" y="576" width="3" height="1" fill="#5e4e66"/>
<rect x="608" y="574" width="2" height="2" fill="#866c9c" fill-opacity="0.6"/>
<rect x="607" y="574" width="1" height="3" fill="#5e4e66"/>
<rect x="610" y="574" width="1" height="3" fill="#5e4e66"/>
<rect x="607" y="576" width="4" height="1" fill="#5e4e66"/>
<rect x="611" y="574" width="2" height="0" fill="#866c9c" fill-opacity="0.6"/>
<rect x="610" y="573" width="1" height="1" fill="#5e4e66"/>
<rect x="613" y="573" width="1" height="1" fill="#5e4e66"/>
<rect x="610" y="573" width="4" height="1" fill="#5e4e66"/>
<rect x="614" y="574" width="2" height="0" fill="#866c9c" fill-opacity="0.6"/>
<rect x="613" y="573" width="1" height="1" fill="#5e4e66"/>
<rect x="616" y="573" width="1" height="1" fill="#5e4e66"/>
<rect x="613" y="573" width="4" height="1" fill="#5e4e66"/>
<rect x="617" y="573" width="2" height="1" fill="#866c9c" fill-opacity="0.6"/>
<rect x="616" y="572" width="1" height="2" fill="#5e4e66"/>
<rect x="619" y="572" width="1" height="2" fill="#5e4e66"/>
<rect x="616" y="572" width="4" height="1" fill="#5e4e66"/>
<rect x="620" y="571" width="2" height="3" fill="#866c9c" fill-opacity="0.6"/>
<rect x="619" y="570" width="1" height="4" fill="#5e4e66"/>
<rect x="622" y="570" width="1" height="4" fill="#5e4e66"/>
<rect x="619" y="570" width="4" height="1" fill="#5e4e66"/>
<rect x="623" y="569" width="1" height="5" fill="#866c9c" fill-opacity="0.6"/>
<rect x="622" y="568" width="1" height="6" fill="#5e4e66"/>
<rect x="624" y="568" width="1" height="6" fill="#5e4e66"/>
<rect x="622" y="568" width="3" height="1" fill="#5e4e66"/>
<rect x="625" y="566" width="2" height="8" fill="#866c9c" fill-opacity="0.6"/>
<rect x="624" y="565" width="1" height="9" fill="#5e4e66"/>
<rect x="627" y="565" width="1" height="9" fill="#5e4e66"/>
<rect x="624" y="565" width="4" height="1" fill="#5e4e66"/>
<rect x="628" y="567" width="2" height="7" fill="#866c9c" fill-opacity="0.6"/>
<rect x="627" y="566" width="1" height="8" fill="#5e4e66"/>
<rect x="630" y="566" width="1" height="8" fill="#5e4e66"/>
<rect x="627" y="566" width="4" height="1" fill="#5e4e66"/>
<rect x="631" y="568" width="2" height="6" fill="#866c9c" fill-opacity="0.6"/>
<rect x="630" y="567" width="1" height="7" fill="#5e4e66"/>
<rect x="633" y="567" width="1" height="7" fill="#5e4e66"/>
<rect x="630" y="567" width="4" height="1" fill="#5e4e66"/>
<rect x="634" y="569" width="2" height="5" fill="#866c9c" fill-opacity="0.6"/>
<rect x="633" y="568" width="1" height="6" fill="#5e4e66"/>
<rect x="636" y="568" width="1" height="6" fill="#5e4e66"/>
<rect x="633" y="568" width="4" height="1" fill="#5e4e66"/>
<rect x="637" y="571" width="2" height="3" fill="#866c9c" fill-opacity="0.6"/>
<rect x="636" y="570" width="1" height="4" fill="#5e4e66"/>
<rect x="639" y="570" width="1" height="4" fill="#5e4e66"/>
<rect x="636" y="570" width="4" height="1" fill="#5e4e66"/>
<rect x="640" y="573" width="1" height="1" fill="#866c9c" fill-opacity="0.6"/>
<rect x="639" y="572" width="1" height="2" fill="#5e4e66"/>
<rect x="641" y="572" width="1" height="2" fill="#5e4e66"/>
<rect x="639" y="572" width="3" height="1" fill="#5e4e66"/>
<rect x="642" y="573" width="2" height="1" fill="#866c9c" fill-opacity="0.6"/>
<rect x="641" y="572" width="1" height="2" fill="#5e4e66"/>
<rect x="644" y="572" width="1" height="2" fill="#5e4e66"/>
<rect x="641" y="572" width="4" height="1" fill="#5e4e66"/>
<rect x="644" y="574" width="3" height="1" fill="#5e4e66"/>
<rect x="648" y="574" width="2" height="2" fill="#866c9c" fill-opacity="0.6"/>
<rect x="647" y="574" width="1" height="3" fill="#5e4e66"/>
<rect x="650" y="574" width="1" height="3" fill="#5e4e66"/>
<rect x="647" y="576" width="4" height="1" fill="#5e4e66"/>
<rect x="651" y="574" width="2" height="2" fill="#866c9c" fill-opacity="0.6"/>
<rect x="650" y="574" width="1" height="3" fill="#5e4e66"/>
<rect x="653" y="574" width="1" height="3" fill="#5e4e66"/>
<rect x="650" y="576" width="4" height="1" fill="#5e4e66"/>
<rect x="654" y="574" width="2" height="2" fill="#866c9c" fill-opacity="0.6"/>
<rect x="653" y="574" width="1" height="3" fill="#5e4e66"/>
<rect x="656" y="574" width="1" height="3" fill="#5e4e66"/>
<rect x="653" y="576" width="4" height="1" fill="#5e4e66"/>
<rect x="657" y="574" width="1" height="5" fill="#866c9c" fill-opacity="0.6"/>
<rect x="656" y="574" width="1" height="6" fill="#5e4e66"/>
<rect x="658" y="574" width="1" height="6" fill="#5e4e66"/>
<rect x="656" y="579" width="3" height="1" fill="#5e4e66"/>
<rect x="659" y="574" width="2" height="7" fill="#866c9c" fill-opacity="0.6"/>
<rect x="658" y="574" width="1" height="8" fill="#5e4e66"/>
<rect x="661" y="574" width="1" height="8" fill="#5e4e66"/>
<rect x="658" y="581" width="4" height="1" fill="#5e4e66"/>
<rect x="662" y="574" width="2" height="5" fill="#866c9c" fill-opacity="0.6"/>
<rect x="661" y="574" width="1" height="6" fill="#5e4e66"/>
<rect x="664" y="574" width="1" height="6" fill="#5e4e66"/>
<rect x="661" y="579" width="4" height="1" fill="#5e4e66"/>
<rect x="665" y="574" width="2" height="5" fill="#866c9c" fill-opacity="0.6"/>
<rect x="664" y="574" width="1" height="6" fill="#5e4e66"/>
<rect x="667" y="574" width="1" height="6" fill="#5e4e66"/>
<rect x="664" y="579" width="4" height="1" fill="#5e4e66"/>
<rect x="668" y="574" width="2" height="7" fill="#866c9c" fill-opacity="0.6"/>
<rect x="667" y="574" width="1" height="8" fill="#5e4e66"/>
<rect x="670" y="574" width="1" height="8" fill="#5e4e66"/>
<rect x="667" y="581" width="4" height="1" fill="#5e4e66"/>
<rect x="671" y="574" width="2" height="7" fill="#866c9c" fill-opacity="0.6"/>
<rect x="670" y="574" width="1" height="8" fill="#5e4e66"/>
<rect x="673" y="574" width="1" height="8" fill="#5e4e66"/>
<rect x="670" y="581" width="4" height="1" fill="#5e4e66"/>
<rect x="674" y="574" width="1" height="4" fill="#866c9c" fill-opacity="0.6"/>
<rect x="673" y="574" width="1" height="5" fill="#5e4e66"/>
<rect x="675" y="574" width="1" height="5" fill="#5e4e66"/>
<rect x="673" y="578" width="3" height="1" fill="#5e4e66"/>
<rect x="676" y="574" width="2" height="3" fill="#866c9c" fill-opacity="0.6"/>
<rect x="675" y="574" width="1" height="4" fill="#5e4e66"/>
<rect x="678" y="574" width="1" height="4" fill="#5e4e66"/>
<rect x="675" y="577" width="4" height="1" fill="#5e4e66"/>
<rect x="679" y="574" width="2" height="3" fill="#866c9c" fill-opacity="0.6"/>
<rect x="678" y="574" width="1" height="4" fill="#5e4e66"/>
<rect x="681" y="574" width="1" height="4" fill="#5e4e66"/>
<rect x="678" y="577" width="4" height="1" fill="#5e4e66"/>
<rect x="682" y="574" width="2" height="1" fill="#866c9c" fill-opacity="0.6"/>
<rect x="681" y="574" width="1" height="2" fill="#5e4e66"/>
<rect x="684" y="574" width="1" height="2" fill="#5e4e66"/>
<rect x="681" y="575" width="4" height="1" fill="#5e4e66"/>
<rect x="685" y="569" width="2" height="5" fill="#866c9c" fill-opacity="0.6"/>
<rect x="684" y="568" width="1" height="6" fill="#5e4e66"/>
<rect x="687" y="568" width="1" height="6" fill="#5e4e66"/>
<rect x="684" y="568" width="4" height="1" fill="#5e4e66"/>
<rect x="688" y="565" width="2" height="9" fill="#866c9c" fill-opacity="0.6"/>
<rect x="687" y="564" width="1" height="10" fill="#5e4e66"/>
<rect x="690" y="564" width="1" height="10" fill="#5e4e66"/>
<rect x="687" y="564" width="4" height="1" fill="#5e4e66"/>
<rect x="691" y="567" width="1" height="7" fill="#866c9c" fill-opacity="0.6"/>
<rect x="690" y="566" width="1" height="8" fill="#5e4e66"/>
<rect x="692" y="566" width="1" height="8" fill="#5e4e66"/>
<rect x="690" y="566" width="3" height="1" fill="#5e4e66"/>
<rect x="693" y="568" width="2" height="6" fill="#866c9c" fill-opacity="0.6"/>
<rect x="692" y="567" width="1" height="7" fill="#5e4e66"/>
<rect x="695" y="567" width="1" height="7" fill="#5e4e66"/>
<rect x="692" y="567" width="4" height="1" fill="#5e4e66"/>
<rect x="696" y="568" width="2" height="6" fill="#866c9c" fill-opacity="0.6"/>
<rect x="695" y="567" width="1" height="7" fill="#5e4e66"/>
<rect x="698" y="567" width="1" height="7" fill="#5e4e66"/>
<rect x="695" y="567" width="4" height="1" fill="#5e4e66"/>
<rect x="699" y="569" width="2" height="5" fill="#866c9c" fill-opacity="0.6"/>
<rect x="698" y="568" width="1" height="6" fill="#5e4e66"/>
<rect x="701" y="568" width="1" height="6" fill="#5e4e66"/>
<rect x="698" y="568" width="4" height="1" fill="#5e4e66"/>
<rect x="702" y="570" width="2" height="4" fill="#866c9c" fill-opacity="0.6"/>
<rect x="701" y="569" width="1" height="5" fill="#5e4e66"/>
<rect x="704" y="569" width="1" height="5" fill="#5e4e66"/>
<rect x="701" y="569" width="4" height="1" fill="#5e4e66"/>
<rect x="705" y="571" width="2" height="3" fill="#866c9c" fill-opacity="0.6"/>
<rect x="704" y="570" width="1" height="4" fill="#5e4e66"/>
<rect x="707" y="570" width="1" height="4" fill="#5e4e66"/>
<rect x="704" y="570" width="4" height="1" fill="#5e4e66"/>
<rect x="708" y="573" width="1" height="1" fill="#866c9c" fill-opacity="0.6"/>
<rect x="707" y="572" width="1" height="2" fill="#5e4e66"/>
<rect x="709" y="572" width="1" height="2" fill="#5e4e66"/>
<rect x="707" y="572" width="3" height="1" fill="#5e4e66"/>
<rect x="710" y="573" width="2" height="1" fill="#866c9c" fill-opacity="0.6"/>
<rect x="709" y="572" width="1" height="2" fill="#5e4e66"/>
<rect x="712" y="572" width="1" height="2" fill="#5e4e66"/>
<rect x="709" y="572" width="4" height="1" fill="#5e4e66"/>
<rect x="712" y="574" width="3" height="1" fill="#5e4e66"/>
<rect x="715" y="574" width="3" height="1" fill="#5e4e66"/>
<rect x="718" y="574" width="3" height="1" fill="#5e4e66"/>
<rect x="722" y="574" width="2" height="1" fill="#866c9c" fill-opacity="0.6"/>
<rect x="721" y="574" width="1" height="2" fill="#5e4e66"/>
<rect x="724" y="574" width="1" height="2" fill="#5e4e66"/>
<rect x="721" y="575" width="4" height="1" fill="#5e4e66"/>
<rect x="725" y="574" width="1" height="1" fill="#866c9c" fill-opacity="0.6"/>
<rect x="724" y="574" width="1" height="2" fill="#5e4e66"/>
<rect x="726" y="574" width="1" height="2" fill="#5e4e66"/>
<rect x="724" y="575" width="3" height="1" fill="#5e4e66"/>
<rect x="726" y="574" width="3" height="1" fill="#5e4e66"/>
<rect x="730" y="574" width="2" height="1" fill="#866c9c" fill-opacity="0.6"/>
<rect x="729" y="574" width="1" height="2" fill="#5e4e66"/>
<rect x="732" y="574" width="1" height="2" fill="#5e4e66"/>
<rect x="729" y="575" width="4" height="1" fill="#5e4e66"/>
<rect x="733" y="574" width="2" height="2" fill="#866c9c" fill-opacity="0.6"/>
<rect x="732" y="574" width="1" height="3" fill="#5e4e66"/>
<rect x="735" y="574" width="1" height="3" fill="#5e4e66"/>
<rect x="732" y="576" width="4" height="1" fill="#5e4e66"/>
<rect x="736" y="574" width="2" height="4" fill="#866c9c" fill-opacity="0.6"/>
<rect x="735" y="574" width="1" height="5" fill="#5e4e66"/>
<rect x="738" y="574" width="1" height="5" fill="#5e4e66"/>
<rect x="735" y="578" width="4" height="1" fill="#5e4e66"/>
</g>
<path d="M12.0,573.6 L17.2,570.2 L22.4,565.8 L29.4,559.7 L38.1,552.8 L46.8,546.7 L53.7,541.5 L58.9,537.1 L64.1,535.4 L69.3,534.9 L76.3,535.4 L83.2,535.9 L88.5,536.6 L93.7,535.9 L98.9,534.5 L105.8,533.1 L111.9,533.1 L118.0,534.9 L123.2,539.8 L128.0,544.1 L135.0,546.7 L141.9,548.4 L147.1,545.0 L155.8,541.8 L161.0,545.0 L168.0,551.0 L174.9,556.3 L180.1,558.9 L187.1,554.5 L194.0,549.3 L199.2,544.1 L200.0,541.7 L205.2,531.3 L210.4,524.3 L215.6,520.0 L220.9,518.2 L226.1,517.4 L231.3,515.6 L236.5,514.2 L242.6,512.5 L246.9,514.8 L250.4,517.4 L253.9,524.3 L259.1,533.0 L264.3,543.4 L269.5,553.9 L276.5,564.3 L283.4,576.5 L288.6,586.9 L293.8,591.2 L299.0,593.8 L304.3,594.7 L309.5,596.4 L314.7,599.9 L316.0,600.8 L321.2,603.4 L326.4,605.6 L331.6,603.4 L336.9,602.5 L342.1,600.8 L350.8,599.0 L357.7,600.4 L364.7,597.3 L371.6,594.7 L376.8,593.5 L385.5,593.8 L394.2,594.7 L401.1,593.8 L405.5,592.1 L411.6,586.9 L420.3,579.1 L427.2,571.2 L432.0,561.7 L439.0,558.2 L445.9,557.0 L451.1,559.9 L458.1,566.9 L465.0,574.7 L472.0,579.9 L477.2,583.1 L484.1,584.8 L491.1,583.4 L498.0,580.8 L505.0,576.5 L510.2,571.2 L515.4,567.4 L520.6,566.0 L525.8,566.9 L531.0,569.2 L536.3,570.4 L541.5,570.9 L546.7,570.9 L548.0,570.4 L555.0,571.2 L561.9,573.8 L568.9,578.2 L575.8,583.4 L582.8,586.0 L589.7,587.7 L596.7,589.0 L603.6,590.0 L610.6,590.4 L617.5,590.0 L622.7,587.7 L627.9,583.4 L633.1,580.3 L638.4,579.1 L643.6,579.6 L648.8,580.8 L650.0,581.2 L654.3,581.9 L658.5,584.0 L664.2,586.9 L669.9,590.4 L675.6,593.3 L681.3,594.7 L685.6,591.8 L689.8,588.3 L695.5,584.7 L701.2,582.2 L706.9,581.2 L712.6,581.2 L718.3,581.5 L724.0,582.2 L729.7,582.6 L733.9,583.7 L736.5,584.7" fill="none" stroke="#b0103a" stroke-width="1.1"/>
<path d="M12.0,570.2 L17.2,564.1 L22.4,558.9 L28.5,554.5 L33.7,550.5 L38.9,548.4 L42.4,543.6 L46.8,539.8 L51.1,534.9 L56.3,527.2 L60.7,529.3 L64.1,531.1 L67.6,533.7 L72.8,536.3 L78.0,535.9 L81.5,535.9 L85.0,538.0 L88.5,537.7 L91.9,535.4 L97.1,532.8 L104.1,529.3 L108.4,531.9 L112.8,533.7 L116.3,538.9 L121.5,549.3 L126.7,552.3 L128.0,551.9 L133.2,552.8 L138.4,550.2 L143.6,544.1 L148.9,538.9 L153.2,538.0 L157.5,540.6 L161.0,548.4 L164.5,558.9 L169.7,564.1 L175.8,564.1 L180.1,558.9 L185.3,551.9 L190.6,545.8 L194.0,540.6 L198.4,537.1 L200.0,527.8 L201.7,519.1 L204.3,514.8 L207.8,511.3 L213.9,512.2 L217.4,513.0 L220.9,513.9 L224.3,513.0 L227.8,514.2 L231.3,515.6 L234.8,513.0 L238.2,512.5 L242.6,512.5 L246.9,519.1 L250.4,526.1 L253.9,536.5 L257.3,550.4 L260.8,557.3 L264.3,566.0 L267.8,573.0 L271.2,577.3 L274.7,581.7 L278.2,586.9 L281.7,593.0 L284.3,599.0 L286.5,605.1 L289.0,600.4 L292.1,601.7 L295.6,600.8 L299.0,596.4 L302.5,594.7 L305.1,597.3 L307.7,600.8 L311.2,602.5 L314.7,606.0 L316.0,609.5 L319.5,607.7 L323.0,606.3 L326.4,607.7 L329.9,603.4 L333.4,600.4 L336.0,601.7 L338.6,599.4 L342.1,598.7 L345.5,597.3 L350.8,595.2 L353.4,598.2 L356.0,602.5 L358.6,602.5 L362.0,596.4 L366.4,590.4 L371.6,588.6 L375.9,592.1 L380.3,594.7 L385.5,594.7 L389.0,595.2 L392.5,594.4 L395.9,595.2 L399.4,593.0 L402.9,590.4 L406.4,586.0 L409.8,580.8 L413.3,573.0 L416.8,570.4 L420.3,568.1 L423.7,562.6 L427.2,556.0 L432.0,550.4 L435.5,553.0 L440.7,553.5 L444.2,555.6 L449.4,564.3 L454.6,572.1 L459.8,579.1 L465.0,585.1 L469.4,588.3 L473.7,589.0 L478.0,589.5 L480.7,586.9 L484.1,586.9 L489.3,582.5 L494.6,579.9 L499.8,575.6 L505.0,570.4 L509.3,565.2 L512.8,561.7 L517.1,560.5 L520.6,562.9 L525.8,566.9 L531.0,570.4 L535.4,574.4 L538.9,573.8 L543.2,570.9 L547.6,568.6 L548.0,569.2 L551.5,569.5 L555.0,573.8 L558.4,576.5 L563.6,578.2 L567.1,580.8 L570.6,586.0 L574.1,589.5 L577.5,591.2 L581.0,593.0 L585.4,588.6 L588.8,590.4 L593.2,590.4 L597.5,590.4 L601.0,592.1 L605.3,591.2 L608.8,592.1 L612.3,590.0 L616.6,589.0 L619.2,585.1 L622.7,579.6 L627.1,576.1 L631.4,575.6 L636.6,577.0 L641.8,579.1 L647.0,582.5 L650.0,584.0 L653.6,583.7 L655.0,583.3 L656.4,588.3 L659.2,591.1 L662.1,591.4 L664.9,594.0 L668.5,596.8 L671.3,597.5 L675.6,597.5 L679.2,597.5 L682.0,594.0 L684.9,586.9 L687.7,581.9 L690.5,581.2 L693.4,579.7 L696.2,578.3 L699.1,577.6 L701.9,578.0 L705.5,577.2 L707.6,579.0 L711.2,580.5 L715.4,581.2 L719.0,583.3 L722.5,583.3 L725.4,584.0 L727.5,582.6 L730.4,584.7 L733.2,586.9 L736.5,589.4" fill="none" stroke="#000" stroke-width="1.8"/>
<g shape-rendering="crispEdges">
<rect x="12.5" y="30.5" width="795" height="118" fill="none" stroke="#5c5c68" stroke-width="1"/>
<rect x="12.5" y="148.5" width="795" height="337" fill="none" stroke="#5c5c68" stroke-width="1"/>
<rect x="12.5" y="499.5" width="795" height="118" fill="none" stroke="#5c5c68" stroke-width="1"/>
<rect x="12" y="486" width="795" height="13" fill="#d3b9da"/>
<rect x="12" y="485" width="796" height="1" fill="#5c5c68"/>
<rect x="12" y="499" width="796" height="1" fill="#5c5c68"/>
<rect x="30" y="632" width="1" height="1" fill="#a6d8ee"/>
<rect x="30" y="486" width="1" height="2" fill="#5c5c68"/>
<rect x="30" y="497" width="1" height="2" fill="#5c5c68"/>
<rect x="30" y="618" width="1" height="2" fill="#5c5c68"/>
<rect x="67" y="632" width="1" height="1" fill="#a6d8ee"/>
<rect x="67" y="486" width="1" height="2" fill="#5c5c68"/>
<rect x="67" y="497" width="1" height="2" fill="#5c5c68"/>
<rect x="67" y="618" width="1" height="2" fill="#5c5c68"/>
<rect x="104" y="632" width="1" height="1" fill="#a6d8ee"/>
<rect x="104" y="486" width="1" height="2" fill="#5c5c68"/>
<rect x="104" y="497" width="1" height="2" fill="#5c5c68"/>
<rect x="104" y="618" width="1" height="2" fill="#5c5c68"/>
<rect x="141" y="632" width="1" height="1" fill="#a6d8ee"/>
<rect x="141" y="486" width="1" height="2" fill="#5c5c68"/>
<rect x="141" y="497" width="1" height="2" fill="#5c5c68"/>
<rect x="141" y="618" width="1" height="2" fill="#5c5c68"/>
<rect x="178" y="632" width="1" height="1" fill="#a6d8ee"/>
<rect x="178" y="486" width="1" height="2" fill="#5c5c68"/>
<rect x="178" y="497" width="1" height="2" fill="#5c5c68"/>
<rect x="178" y="618" width="1" height="2" fill="#5c5c68"/>
<rect x="215" y="632" width="1" height="1" fill="#a6d8ee"/>
<rect x="215" y="486" width="1" height="2" fill="#5c5c68"/>
<rect x="215" y="497" width="1" height="2" fill="#5c5c68"/>
<rect x="215" y="618" width="1" height="2" fill="#5c5c68"/>
<rect x="251" y="632" width="1" height="1" fill="#a6d8ee"/>
<rect x="251" y="486" width="1" height="2" fill="#5c5c68"/>
<rect x="251" y="497" width="1" height="2" fill="#5c5c68"/>
<rect x="251" y="618" width="1" height="2" fill="#5c5c68"/>
<rect x="288" y="632" width="1" height="1" fill="#a6d8ee"/>
<rect x="288" y="486" width="1" height="2" fill="#5c5c68"/>
<rect x="288" y="497" width="1" height="2" fill="#5c5c68"/>
<rect x="288" y="618" width="1" height="2" fill="#5c5c68"/>
<rect x="325" y="632" width="1" height="1" fill="#a6d8ee"/>
<rect x="325" y="486" width="1" height="2" fill="#5c5c68"/>
<rect x="325" y="497" width="1" height="2" fill="#5c5c68"/>
<rect x="325" y="618" width="1" height="2" fill="#5c5c68"/>
<rect x="362" y="632" width="1" height="1" fill="#a6d8ee"/>
<rect x="362" y="486" width="1" height="2" fill="#5c5c68"/>
<rect x="362" y="497" width="1" height="2" fill="#5c5c68"/>
<rect x="362" y="618" width="1" height="2" fill="#5c5c68"/>
<rect x="399" y="632" width="1" height="1" fill="#a6d8ee"/>
<rect x="399" y="486" width="1" height="2" fill="#5c5c68"/>
<rect x="399" y="497" width="1" height="2" fill="#5c5c68"/>
<rect x="399" y="618" width="1" height="2" fill="#5c5c68"/>
<rect x="435" y="632" width="1" height="1" fill="#a6d8ee"/>
<rect x="435" y="486" width="1" height="2" fill="#5c5c68"/>
<rect x="435" y="497" width="1" height="2" fill="#5c5c68"/>
<rect x="435" y="618" width="1" height="2" fill="#5c5c68"/>
<rect x="472" y="632" width="1" height="1" fill="#a6d8ee"/>
<rect x="472" y="486" width="1" height="2" fill="#5c5c68"/>
<rect x="472" y="497" width="1" height="2" fill="#5c5c68"/>
<rect x="472" y="618" width="1" height="2" fill="#5c5c68"/>
<rect x="509" y="632" width="1" height="1" fill="#a6d8ee"/>
<rect x="509" y="486" width="1" height="2" fill="#5c5c68"/>
<rect x="509" y="497" width="1" height="2" fill="#5c5c68"/>
<rect x="509" y="618" width="1" height="2" fill="#5c5c68"/>
<rect x="546" y="632" width="1" height="1" fill="#a6d8ee"/>
<rect x="546" y="486" width="1" height="2" fill="#5c5c68"/>
<rect x="546" y="497" width="1" height="2" fill="#5c5c68"/>
<rect x="546" y="618" width="1" height="2" fill="#5c5c68"/>
<rect x="585" y="632" width="1" height="1" fill="#a6d8ee"/>
<rect x="585" y="486" width="1" height="2" fill="#5c5c68"/>
<rect x="585" y="497" width="1" height="2" fill="#5c5c68"/>
<rect x="585" y="618" width="1" height="2" fill="#5c5c68"/>
<rect x="622" y="632" width="1" height="1" fill="#a6d8ee"/>
<rect x="622" y="486" width="1" height="2" fill="#5c5c68"/>
<rect x="622" y="497" width="1" height="2" fill="#5c5c68"/>
<rect x="622" y="618" width="1" height="2" fill="#5c5c68"/>
<rect x="659" y="632" width="1" height="1" fill="#a6d8ee"/>
<rect x="659" y="486" width="1" height="2" fill="#5c5c68"/>
<rect x="659" y="497" width="1" height="2" fill="#5c5c68"/>
<rect x="659" y="618" width="1" height="2" fill="#5c5c68"/>
<rect x="696" y="632" width="1" height="1" fill="#a6d8ee"/>
<rect x="696" y="486" width="1" height="2" fill="#5c5c68"/>
<rect x="696" y="497" width="1" height="2" fill="#5c5c68"/>
<rect x="696" y="618" width="1" height="2" fill="#5c5c68"/>
<rect x="733" y="632" width="1" height="1" fill="#a6d8ee"/>
<rect x="733" y="486" width="1" height="2" fill="#5c5c68"/>
<rect x="733" y="497" width="1" height="2" fill="#5c5c68"/>
<rect x="733" y="618" width="1" height="2" fill="#5c5c68"/>
<rect x="770" y="632" width="1" height="1" fill="#a6d8ee"/>
<rect x="770" y="486" width="1" height="2" fill="#5c5c68"/>
<rect x="770" y="497" width="1" height="2" fill="#5c5c68"/>
<rect x="770" y="618" width="1" height="2" fill="#5c5c68"/>
<rect x="808" y="141" width="2" height="1" fill="#5c5c68"/>
<rect x="808" y="136" width="1" height="1" fill="#5c5c68"/>
<rect x="808" y="130" width="2" height="1" fill="#5c5c68"/>
<rect x="808" y="125" width="1" height="1" fill="#5c5c68"/>
<rect x="808" y="120" width="2" height="1" fill="#5c5c68"/>
<rect x="808" y="115" width="1" height="1" fill="#5c5c68"/>
<rect x="808" y="110" width="2" height="1" fill="#5c5c68"/>
<rect x="808" y="105" width="1" height="1" fill="#5c5c68"/>
<rect x="808" y="100" width="2" height="1" fill="#5c5c68"/>
<rect x="808" y="94" width="1" height="1" fill="#5c5c68"/>
<rect x="808" y="89" width="2" height="1" fill="#5c5c68"/>
<rect x="808" y="84" width="1" height="1" fill="#5c5c68"/>
<rect x="808" y="79" width="2" height="1" fill="#5c5c68"/>
<rect x="808" y="74" width="1" height="1" fill="#5c5c68"/>
<rect x="808" y="69" width="2" height="1" fill="#5c5c68"/>
<rect x="808" y="64" width="1" height="1" fill="#5c5c68"/>
<rect x="808" y="58" width="2" height="1" fill="#5c5c68"/>
<rect x="808" y="53" width="1" height="1" fill="#5c5c68"/>
<rect x="808" y="48" width="2" height="1" fill="#5c5c68"/>
<rect x="808" y="43" width="1" height="1" fill="#5c5c68"/>
<rect x="808" y="38" width="2" height="1" fill="#5c5c68"/>
<rect x="808" y="479" width="1" height="1" fill="#5c5c68"/>
<rect x="808" y="475" width="1" height="1" fill="#5c5c68"/>
<rect x="808" y="472" width="1" height="1" fill="#5c5c68"/>
<rect x="808" y="468" width="2" height="1" fill="#5c5c68"/>
<rect x="808" y="464" width="1" height="1" fill="#5c5c68"/>
<rect x="808" y="460" width="1" height="1" fill="#5c5c68"/>
<rect x="808" y="456" width="1" height="1" fill="#5c5c68"/>
<rect x="808" y="452" width="1" height="1" fill="#5c5c68"/>
<rect x="808" y="449" width="2" height="1" fill="#5c5c68"/>
<rect x="808" y="445" width="1" height="1" fill="#5c5c68"/>
<rect x="808" y="441" width="1" height="1" fill="#5c5c68"/>
<rect x="808" y="437" width="1" height="1" fill="#5c5c68"/>
<rect x="808" y="433" width="1" height="1" fill="#5c5c68"/>
<rect x="808" y="429" width="2" height="1" fill="#5c5c68"/>
<rect x="808" y="426" width="1" height="1" fill="#5c5c68"/>
<rect x="808" y="422" width="1" height="1" fill="#5c5c68"/>
<rect x="808" y="418" width="1" height="1" fill="#5c5c68"/>
<rect x="808" y="414" width="1" height="1" fill="#5c5c68"/>
<rect x="808" y="410" width="2" height="1" fill="#5c5c68"/>
<rect x="808" y="406" width="1" height="1" fill="#5c5c68"/>
<rect x="808" y="403" width="1" height="1" fill="#5c5c68"/>
<rect x="808" y="399" width="1" height="1" fill="#5c5c68"/>
<rect x="808" y="395" width="1" height="1" fill="#5c5c68"/>
<rect x="808" y="391" width="2" height="1" fill="#5c5c68"/>
<rect x="808" y="387" width="1" height="1" fill="#5c5c68"/>
<rect x="808" y="383" width="1" height="1" fill="#5c5c68"/>
<rect x="808" y="380" width="1" height="1" fill="#5c5c68"/>
<rect x="808" y="376" width="1" height="1" fill="#5c5c68"/>
<rect x="808" y="372" width="2" height="1" fill="#5c5c68"/>
<rect x="808" y="368" width="1" height="1" fill="#5c5c68"/>
<rect x="808" y="364" width="1" height="1" fill="#5c5c68"/>
<rect x="808" y="360" width="1" height="1" fill="#5c5c68"/>
<rect x="808" y="357" width="1" height="1" fill="#5c5c68"/>
<rect x="808" y="353" width="2" height="1" fill="#5c5c68"/>
<rect x="808" y="349" width="1" height="1" fill="#5c5c68"/>
<rect x="808" y="345" width="1" height="1" fill="#5c5c68"/>
<rect x="808" y="341" width="1" height="1" fill="#5c5c68"/>
<rect x="808" y="337" width="1" height="1" fill="#5c5c68"/>
<rect x="808" y="334" width="2" height="1" fill="#5c5c68"/>
<rect x="808" y="330" width="1" height="1" fill="#5c5c68"/>
<rect x="808" y="326" width="1" height="1" fill="#5c5c68"/>
<rect x="808" y="322" width="1" height="1" fill="#5c5c68"/>
<rect x="808" y="318" width="1" height="1" fill="#5c5c68"/>
<rect x="808" y="314" width="2" height="1" fill="#5c5c68"/>
<rect x="808" y="311" width="1" height="1" fill="#5c5c68"/>
<rect x="808" y="307" width="1" height="1" fill="#5c5c68"/>
<rect x="808" y="303" width="1" height="1" fill="#5c5c68"/>
<rect x="808" y="299" width="1" height="1" fill="#5c5c68"/>
<rect x="808" y="295" width="2" height="1" fill="#5c5c68"/>
<rect x="808" y="291" width="1" height="1" fill="#5c5c68"/>
<rect x="808" y="287" width="1" height="1" fill="#5c5c68"/>
<rect x="808" y="284" width="1" height="1" fill="#5c5c68"/>
<rect x="808" y="280" width="1" height="1" fill="#5c5c68"/>
<rect x="808" y="276" width="2" height="1" fill="#5c5c68"/>
<rect x="808" y="272" width="1" height="1" fill="#5c5c68"/>
<rect x="808" y="268" width="1" height="1" fill="#5c5c68"/>
<rect x="808" y="264" width="1" height="1" fill="#5c5c68"/>
<rect x="808" y="261" width="1" height="1" fill="#5c5c68"/>
<rect x="808" y="257" width="2" height="1" fill="#5c5c68"/>
<rect x="808" y="253" width="1" height="1" fill="#5c5c68"/>
<rect x="808" y="249" width="1" height="1" fill="#5c5c68"/>
<rect x="808" y="245" width="1" height="1" fill="#5c5c68"/>
<rect x="808" y="241" width="1" height="1" fill="#5c5c68"/>
<rect x="808" y="238" width="2" height="1" fill="#5c5c68"/>
<rect x="808" y="234" width="1" height="1" fill="#5c5c68"/>
<rect x="808" y="230" width="1" height="1" fill="#5c5c68"/>
<rect x="808" y="226" width="1" height="1" fill="#5c5c68"/>
<rect x="808" y="222" width="1" height="1" fill="#5c5c68"/>
<rect x="808" y="218" width="2" height="1" fill="#5c5c68"/>
<rect x="808" y="215" width="1" height="1" fill="#5c5c68"/>
<rect x="808" y="211" width="1" height="1" fill="#5c5c68"/>
<rect x="808" y="207" width="1" height="1" fill="#5c5c68"/>
<rect x="808" y="203" width="1" height="1" fill="#5c5c68"/>
<rect x="808" y="199" width="2" height="1" fill="#5c5c68"/>
<rect x="808" y="195" width="1" height="1" fill="#5c5c68"/>
<rect x="808" y="192" width="1" height="1" fill="#5c5c68"/>
<rect x="808" y="188" width="1" height="1" fill="#5c5c68"/>
<rect x="808" y="184" width="1" height="1" fill="#5c5c68"/>
<rect x="808" y="180" width="2" height="1" fill="#5c5c68"/>
<rect x="808" y="176" width="1" height="1" fill="#5c5c68"/>
<rect x="808" y="172" width="1" height="1" fill="#5c5c68"/>
<rect x="808" y="169" width="1" height="1" fill="#5c5c68"/>
<rect x="808" y="165" width="1" height="1" fill="#5c5c68"/>
<rect x="808" y="161" width="2" height="1" fill="#5c5c68"/>
<rect x="808" y="157" width="1" height="1" fill="#5c5c68"/>
<rect x="808" y="153" width="1" height="1" fill="#5c5c68"/>
<rect x="808" y="612" width="1" height="1" fill="#5c5c68"/>
<rect x="808" y="604" width="2" height="1" fill="#5c5c68"/>
<rect x="808" y="597" width="1" height="1" fill="#5c5c68"/>
<rect x="808" y="589" width="2" height="1" fill="#5c5c68"/>
<rect x="808" y="581" width="1" height="1" fill="#5c5c68"/>
<rect x="808" y="573" width="2" height="1" fill="#5c5c68"/>
<rect x="808" y="566" width="1" height="1" fill="#5c5c68"/>
<rect x="808" y="558" width="2" height="1" fill="#5c5c68"/>
<rect x="808" y="550" width="1" height="1" fill="#5c5c68"/>
<rect x="808" y="542" width="2" height="1" fill="#5c5c68"/>
<rect x="808" y="535" width="1" height="1" fill="#5c5c68"/>
<rect x="808" y="527" width="2" height="1" fill="#5c5c68"/>
<rect x="808" y="519" width="1" height="1" fill="#5c5c68"/>
<rect x="808" y="511" width="2" height="1" fill="#5c5c68"/>
<rect x="808" y="504" width="1" height="1" fill="#5c5c68"/>
</g>
<rect x="0" y="0" width="846" height="2" fill="#858585"/>
<rect x="0" y="2" width="846" height="1" fill="#7a7890"/>
<rect x="844" y="0" width="2" height="633" fill="#8a8690"/>
<text x="30.5" y="496.2" font-size="11" font-weight="bold" text-anchor="middle" fill="#000" textLength="12.2" lengthAdjust="spacingAndGlyphs">21</text>
<text x="67.5" y="496.2" font-size="9.4" text-anchor="middle" fill="#000" textLength="17.4" lengthAdjust="spacingAndGlyphs">Apr</text>
<text x="104.5" y="496.2" font-size="9.4" text-anchor="middle" fill="#000" textLength="14.4" lengthAdjust="spacingAndGlyphs">Jul</text>
<text x="141.5" y="496.2" font-size="9.4" text-anchor="middle" fill="#000" textLength="17.4" lengthAdjust="spacingAndGlyphs">Oct</text>
<text x="178.5" y="496.2" font-size="11" font-weight="bold" text-anchor="middle" fill="#000" textLength="12.2" lengthAdjust="spacingAndGlyphs">22</text>
<text x="215.5" y="496.2" font-size="9.4" text-anchor="middle" fill="#000" textLength="17.4" lengthAdjust="spacingAndGlyphs">Apr</text>
<text x="251.5" y="496.2" font-size="9.4" text-anchor="middle" fill="#000" textLength="14.4" lengthAdjust="spacingAndGlyphs">Jul</text>
<text x="288.5" y="496.2" font-size="9.4" text-anchor="middle" fill="#000" textLength="17.4" lengthAdjust="spacingAndGlyphs">Oct</text>
<text x="325.5" y="496.2" font-size="11" font-weight="bold" text-anchor="middle" fill="#000" textLength="12.2" lengthAdjust="spacingAndGlyphs">23</text>
<text x="362.5" y="496.2" font-size="9.4" text-anchor="middle" fill="#000" textLength="17.4" lengthAdjust="spacingAndGlyphs">Apr</text>
<text x="399.5" y="496.2" font-size="9.4" text-anchor="middle" fill="#000" textLength="14.4" lengthAdjust="spacingAndGlyphs">Jul</text>
<text x="435.5" y="496.2" font-size="9.4" text-anchor="middle" fill="#000" textLength="17.4" lengthAdjust="spacingAndGlyphs">Oct</text>
<text x="472.5" y="496.2" font-size="11" font-weight="bold" text-anchor="middle" fill="#000" textLength="12.2" lengthAdjust="spacingAndGlyphs">24</text>
<text x="509.5" y="496.2" font-size="9.4" text-anchor="middle" fill="#000" textLength="17.4" lengthAdjust="spacingAndGlyphs">Apr</text>
<text x="546.5" y="496.2" font-size="9.4" text-anchor="middle" fill="#000" textLength="14.4" lengthAdjust="spacingAndGlyphs">Jul</text>
<text x="585.5" y="496.2" font-size="9.4" text-anchor="middle" fill="#000" textLength="17.4" lengthAdjust="spacingAndGlyphs">Oct</text>
<text x="622.5" y="496.2" font-size="11" font-weight="bold" text-anchor="middle" fill="#000" textLength="12.2" lengthAdjust="spacingAndGlyphs">25</text>
<text x="659.5" y="496.2" font-size="9.4" text-anchor="middle" fill="#000" textLength="17.4" lengthAdjust="spacingAndGlyphs">Apr</text>
<text x="696.5" y="496.2" font-size="9.4" text-anchor="middle" fill="#000" textLength="14.4" lengthAdjust="spacingAndGlyphs">Jul</text>
<text x="733.5" y="496.2" font-size="9.4" text-anchor="middle" fill="#000" textLength="17.4" lengthAdjust="spacingAndGlyphs">Oct</text>
<text x="770.5" y="496.2" font-size="11" font-weight="bold" text-anchor="middle" fill="#000" textLength="12.2" lengthAdjust="spacingAndGlyphs">26</text>
<text x="30.5" y="628.2" font-size="11" font-weight="bold" text-anchor="middle" fill="#000" textLength="12.2" lengthAdjust="spacingAndGlyphs">21</text>
<text x="67.5" y="628.2" font-size="9.4" text-anchor="middle" fill="#000" textLength="17.4" lengthAdjust="spacingAndGlyphs">Apr</text>
<text x="104.5" y="628.2" font-size="9.4" text-anchor="middle" fill="#000" textLength="14.4" lengthAdjust="spacingAndGlyphs">Jul</text>
<text x="141.5" y="628.2" font-size="9.4" text-anchor="middle" fill="#000" textLength="17.4" lengthAdjust="spacingAndGlyphs">Oct</text>
<text x="178.5" y="628.2" font-size="11" font-weight="bold" text-anchor="middle" fill="#000" textLength="12.2" lengthAdjust="spacingAndGlyphs">22</text>
<text x="215.5" y="628.2" font-size="9.4" text-anchor="middle" fill="#000" textLength="17.4" lengthAdjust="spacingAndGlyphs">Apr</text>
<text x="251.5" y="628.2" font-size="9.4" text-anchor="middle" fill="#000" textLength="14.4" lengthAdjust="spacingAndGlyphs">Jul</text>
<text x="288.5" y="628.2" font-size="9.4" text-anchor="middle" fill="#000" textLength="17.4" lengthAdjust="spacingAndGlyphs">Oct</text>
<text x="325.5" y="628.2" font-size="11" font-weight="bold" text-anchor="middle" fill="#000" textLength="12.2" lengthAdjust="spacingAndGlyphs">23</text>
<text x="362.5" y="628.2" font-size="9.4" text-anchor="middle" fill="#000" textLength="17.4" lengthAdjust="spacingAndGlyphs">Apr</text>
<text x="399.5" y="628.2" font-size="9.4" text-anchor="middle" fill="#000" textLength="14.4" lengthAdjust="spacingAndGlyphs">Jul</text>
<text x="435.5" y="628.2" font-size="9.4" text-anchor="middle" fill="#000" textLength="17.4" lengthAdjust="spacingAndGlyphs">Oct</text>
<text x="472.5" y="628.2" font-size="11" font-weight="bold" text-anchor="middle" fill="#000" textLength="12.2" lengthAdjust="spacingAndGlyphs">24</text>
<text x="509.5" y="628.2" font-size="9.4" text-anchor="middle" fill="#000" textLength="17.4" lengthAdjust="spacingAndGlyphs">Apr</text>
<text x="546.5" y="628.2" font-size="9.4" text-anchor="middle" fill="#000" textLength="14.4" lengthAdjust="spacingAndGlyphs">Jul</text>
<text x="585.5" y="628.2" font-size="9.4" text-anchor="middle" fill="#000" textLength="17.4" lengthAdjust="spacingAndGlyphs">Oct</text>
<text x="622.5" y="628.2" font-size="11" font-weight="bold" text-anchor="middle" fill="#000" textLength="12.2" lengthAdjust="spacingAndGlyphs">25</text>
<text x="659.5" y="628.2" font-size="9.4" text-anchor="middle" fill="#000" textLength="17.4" lengthAdjust="spacingAndGlyphs">Apr</text>
<text x="696.5" y="628.2" font-size="9.4" text-anchor="middle" fill="#000" textLength="14.4" lengthAdjust="spacingAndGlyphs">Jul</text>
<text x="733.5" y="628.2" font-size="9.4" text-anchor="middle" fill="#000" textLength="17.4" lengthAdjust="spacingAndGlyphs">Oct</text>
<text x="770.5" y="628.2" font-size="11" font-weight="bold" text-anchor="middle" fill="#000" textLength="12.2" lengthAdjust="spacingAndGlyphs">26</text>
<text x="822" y="51.1" font-size="10" fill="#000" text-anchor="end">90</text>
<text x="822" y="71.7" font-size="10" fill="#000" text-anchor="end">70</text>
<text x="822" y="92.3" font-size="10" fill="#000" text-anchor="end">50</text>
<text x="822" y="112.9" font-size="10" fill="#000" text-anchor="end">30</text>
<text x="822" y="133.5" font-size="10" fill="#000" text-anchor="end">10</text>
<text x="828.5" y="471.1" font-size="10" fill="#000" text-anchor="end">45</text>
<text x="828.5" y="451.9" font-size="10" fill="#000" text-anchor="end">50</text>
<text x="828.5" y="432.7" font-size="10" fill="#000" text-anchor="end">55</text>
<text x="828.5" y="413.5" font-size="10" fill="#000" text-anchor="end">60</text>
<text x="828.5" y="394.4" font-size="10" fill="#000" text-anchor="end">65</text>
<text x="828.5" y="375.2" font-size="10" fill="#000" text-anchor="end">70</text>
<text x="828.5" y="356.0" font-size="10" fill="#000" text-anchor="end">75</text>
<text x="828.5" y="336.8" font-size="10" fill="#000" text-anchor="end">80</text>
<text x="828.5" y="317.6" font-size="10" fill="#000" text-anchor="end">85</text>
<text x="828.5" y="298.5" font-size="10" fill="#000" text-anchor="end">90</text>
<text x="828.5" y="279.3" font-size="10" fill="#000" text-anchor="end">95</text>
<text x="828.5" y="260.1" font-size="10" fill="#000" text-anchor="end">100</text>
<text x="828.5" y="240.9" font-size="10" fill="#000" text-anchor="end">105</text>
<text x="828.5" y="221.7" font-size="10" fill="#000" text-anchor="end">110</text>
<text x="828.5" y="202.6" font-size="10" fill="#000" text-anchor="end">115</text>
<text x="828.5" y="183.4" font-size="10" fill="#000" text-anchor="end">120</text>
<text x="828.5" y="164.2" font-size="10" fill="#000" text-anchor="end">125</text>
<text x="820" y="514.7" font-size="10" fill="#000" text-anchor="end">8</text>
<text x="820" y="530.2" font-size="10" fill="#000" text-anchor="end">6</text>
<text x="820" y="545.7" font-size="10" fill="#000" text-anchor="end">4</text>
<text x="820" y="561.2" font-size="10" fill="#000" text-anchor="end">2</text>
<text x="820" y="576.7" font-size="10" fill="#000" text-anchor="end">0</text>
<text x="820" y="592.2" font-size="10" fill="#000" text-anchor="end">-2</text>
<text x="820" y="607.7" font-size="10" fill="#000" text-anchor="end">-4</text>
<path d="M805.2,100.5 L809,95.4 L838.5,95.4 L838.5,105.6 L809,105.6 Z" fill="#f2f2fa" stroke="#201020" stroke-width="1.1"/>
<text x="809.8" y="103.9" font-size="9.6" fill="#000"  textLength="27.3" lengthAdjust="spacingAndGlyphs">38.55</text>
<path d="M805.2,338.5 L809,333.4 L838.5,333.4 L838.5,343.6 L809,343.6 Z" fill="#f2f2fa" stroke="#dd0000" stroke-width="1.1"/>
<text x="809.8" y="341.9" font-size="9.6" fill="#000"  textLength="27.3" lengthAdjust="spacingAndGlyphs">78.57</text>
<path d="M805.2,419.1 L809,414.0 L838.5,414.0 L838.5,424.2 L809,424.2 Z" fill="#f2f2fa" stroke="#000" stroke-width="1.1"/>
<text x="809.8" y="422.5" font-size="9.6" fill="#000" font-weight="bold" textLength="27.3" lengthAdjust="spacingAndGlyphs">57.64</text>
<path d="M805.2,577.4 L809,572.3 L841.8,572.3 L841.8,582.5 L809,582.5 Z" fill="#f2f2fa" stroke="#201020" stroke-width="1.1"/>
<text x="809.8" y="580.8" font-size="9.6" fill="#000"  textLength="31.2" lengthAdjust="spacingAndGlyphs">-0.558</text>
<path d="M805.2,583.2 L809,578.1 L841.8,578.1 L841.8,588.3 L809,588.3 Z" fill="#f2f2fa" stroke="#b0103a" stroke-width="1.1"/>
<text x="809.8" y="586.6" font-size="9.6" fill="#000"  textLength="31.2" lengthAdjust="spacingAndGlyphs">-1.385</text>
<path d="M805.2,588.5 L809,583.4 L841.8,583.4 L841.8,593.6 L809,593.6 Z" fill="#f2f2fa" stroke="#000" stroke-width="1.1"/>
<text x="809.8" y="591.9" font-size="9.6" fill="#000"  textLength="31.2" lengthAdjust="spacingAndGlyphs">-1.944</text>
<text x="12.3" y="15.7" font-size="15.4" font-weight="bold" fill="#000" textLength="41" lengthAdjust="spacingAndGlyphs">$WTIC</text>
<text x="56" y="14.8" font-size="12.3" fill="#000" textLength="134.5" lengthAdjust="spacingAndGlyphs">Light Crude Oil - Spot (EOD)</text>
<text x="196" y="15.1" font-size="10.6" fill="#000" textLength="21.6" lengthAdjust="spacingAndGlyphs">CME</text>
<text x="12.3" y="28" font-size="10.1" fill="#000" textLength="58.4" lengthAdjust="spacingAndGlyphs">17-Oct-2025</text>
<text x="718" y="15.3" font-size="10.8" fill="#3a3a3a" textLength="89" lengthAdjust="spacingAndGlyphs">© StockCharts.com</text>
<text x="453" y="27.8" font-size="11" fill="#000" font-weight="bold" textLength="27.7" lengthAdjust="spacingAndGlyphs">Open</text>
<text x="484.4" y="27.8" font-size="9.8" fill="#000"  textLength="26.6" lengthAdjust="spacingAndGlyphs">59.60</text>
<text x="517.5" y="27.8" font-size="11" fill="#000" font-weight="bold" textLength="23.7" lengthAdjust="spacingAndGlyphs">High</text>
<text x="544.7" y="27.8" font-size="9.8" fill="#000"  textLength="25.8" lengthAdjust="spacingAndGlyphs">60.11</text>
<text x="577.6" y="27.8" font-size="11" fill="#000" font-weight="bold" textLength="23.6" lengthAdjust="spacingAndGlyphs">Low</text>
<text x="604.8" y="27.8" font-size="9.8" fill="#000"  textLength="26.2" lengthAdjust="spacingAndGlyphs">57.16</text>
<text x="637.7" y="27.8" font-size="11" fill="#000" font-weight="bold" textLength="31.1" lengthAdjust="spacingAndGlyphs">Close</text>
<text x="672.9" y="27.8" font-size="9.8" fill="#000"  textLength="26.8" lengthAdjust="spacingAndGlyphs">57.64</text>
<text x="706" y="27.8" font-size="11" fill="#000" font-weight="bold" textLength="21" lengthAdjust="spacingAndGlyphs">Chg</text>
<text x="730.8" y="27.8" font-size="9.8" fill="#000"  textLength="66.9" lengthAdjust="spacingAndGlyphs">-0.60 (-1.03%)</text>
<path d="M800,23 L807,23 L803.5,26.5 Z" fill="#a00020"/>
<circle cx="843.4" cy="3" r="11.3" fill="#333" stroke="#2a2a2a" stroke-width="1"/>
<circle cx="843.4" cy="3" r="9.9" fill="none" stroke="#fff" stroke-width="1.3"/>
<path d="M839.2,-0.8 L846.8,9.6 M846.4,-0.8 L838.4,9.6" stroke="#fff" stroke-width="2.1"/>
<rect x="13" y="32" width="94" height="11" fill="#efeff8"/>
<path d="M15.3,40.9 L16.3,36.9 L17.5,34.7 L19.3,32.4 L19.8,34.7 L21.5,38.1 L23.5,34.5 L23.5,40.9 Z" fill="#b4a3bf"/>
<path d="M15.3,40.9 L16.3,36.9 L17.5,34.7 L19.3,32.4 L19.8,34.7 L21.5,38.1 L23.5,34.5 L23.5,40.9" fill="none" stroke="#14061a" stroke-width="1.1"/>
<text x="27.5" y="40.5" font-size="9.2" fill="#000"  textLength="79" lengthAdjust="spacingAndGlyphs">RSI(14) 38.55</text>
<rect x="13" y="149" width="143" height="12" fill="#efeff8"/>
<rect x="13" y="161" width="62" height="11" fill="#efeff8"/>
<rect x="13" y="172" width="77" height="11" fill="#efeff8"/>
<rect x="13" y="183" width="68" height="11" fill="#efeff8"/>
<rect x="13" y="194" width="75" height="11" fill="#efeff8"/>
<g fill="#000"><rect x="15" y="153" width="1" height="6"/><rect x="16" y="152" width="2" height="5"/><rect x="19" y="152" width="1" height="7"/><rect x="21" y="153" width="3" height="5"/></g>
<text x="27.7" y="159.3" font-size="10.2" fill="#000"  textLength="128" lengthAdjust="spacingAndGlyphs">$WTIC (Weekly) 57.64</text>
<rect x="15" y="165" width="9" height="2" fill="#0000a0"/>
<text x="25.6" y="170.5" font-size="10" fill="#0000a0"  textLength="48.5" lengthAdjust="spacingAndGlyphs">MA(0) 0.00</text>
<rect x="15" y="176" width="9" height="2" fill="#dd0000"/>
<text x="25.6" y="181.2" font-size="10" fill="#dd0000"  textLength="65.2" lengthAdjust="spacingAndGlyphs">MA(200) 78.57</text>
<rect x="15" y="187" width="9" height="2" fill="#006400"/>
<text x="25.6" y="191.9" font-size="10" fill="#006400"  textLength="54.3" lengthAdjust="spacingAndGlyphs">EMA(0) 0.00</text>
<g fill="#000"><rect x="15" y="197" width="2" height="5"/><rect x="18" y="195" width="2" height="7"/><rect x="21" y="196" width="2" height="6"/></g>
<text x="25.6" y="202" font-size="10" fill="#000"  textLength="61.7" lengthAdjust="spacingAndGlyphs">Volume undef</text>
<text x="366" y="142.6" font-size="17.9" font-weight="bold" fill="#ff0000" textLength="109.6" lengthAdjust="spacingAndGlyphs">OIL WEEKLY</text>
<rect x="12" y="485" width="285" height="16" fill="#d0d0d0"/>
<text x="15.1" y="496.8" font-size="10" fill="#222"  textLength="71" lengthAdjust="spacingAndGlyphs">06 Jan O: 74.56</text>
<text x="95" y="496.8" font-size="10" fill="#222"  textLength="37" lengthAdjust="spacingAndGlyphs">H: 77.86</text>
<text x="141.3" y="496.8" font-size="10" fill="#222"  textLength="35.7" lengthAdjust="spacingAndGlyphs">L: 73.16</text>
<text x="185.5" y="496.8" font-size="10" fill="#222"  textLength="37" lengthAdjust="spacingAndGlyphs">C: 76.57</text>
<text x="231" y="496.8" font-size="10" fill="#222"  textLength="17.3" lengthAdjust="spacingAndGlyphs">V: 0</text>
<text x="256.8" y="496.8" font-size="10" fill="#222"  textLength="37.1" lengthAdjust="spacingAndGlyphs">Y: 85.48</text>
<rect x="13" y="500" width="237" height="11.5" fill="#efeff8"/>
<rect x="15" y="505" width="9" height="2" fill="#000"/>
<text x="27.1" y="510" font-size="10" fill="#000"  textLength="125.2" lengthAdjust="spacingAndGlyphs">MACD(12,26,9) -1.944</text>
<text x="153" y="510" font-size="10" fill="#b0103a"  textLength="45" lengthAdjust="spacingAndGlyphs">, -1.385</text>
<text x="198.5" y="510" font-size="10" fill="#7a5a7e"  textLength="44.5" lengthAdjust="spacingAndGlyphs">, -0.558</text>
</svg></body></html>
